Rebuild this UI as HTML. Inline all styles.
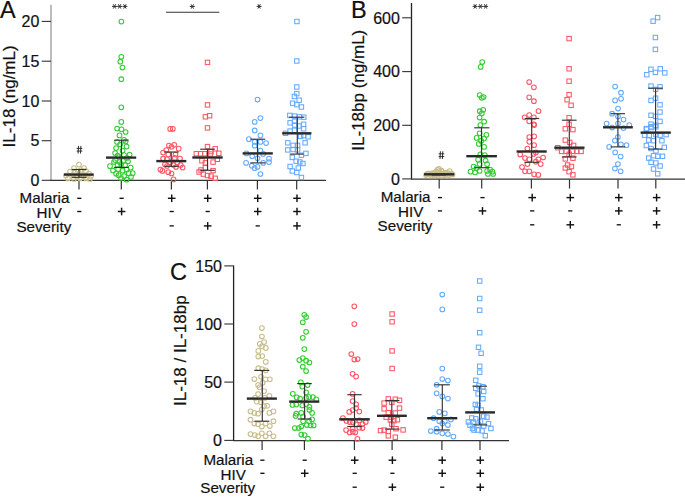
<!DOCTYPE html>
<html><head><meta charset="utf-8"><style>
html,body{margin:0;padding:0;background:#fff;}
svg{display:block;font-family:"Liberation Sans", sans-serif;}
text{stroke:#111;stroke-width:0.2px;}
</style></head><body>
<svg width="685" height="498" viewBox="0 0 685 498">
<text x="0" y="17.8" font-size="23.5" text-anchor="start" fill="#111" >A</text>
<line x1="51" y1="4.8" x2="51" y2="180.3" stroke="#999" stroke-width="1.3"/>
<line x1="50.4" y1="180.3" x2="326" y2="180.3" stroke="#333" stroke-width="1.2"/>
<line x1="41.7" y1="21.4" x2="51" y2="21.4" stroke="#333" stroke-width="1.1"/>
<text x="39.4" y="27.099999999999998" font-size="16" text-anchor="end" fill="#111" >20</text>
<line x1="41.7" y1="61.2" x2="51" y2="61.2" stroke="#333" stroke-width="1.1"/>
<text x="39.4" y="66.9" font-size="16" text-anchor="end" fill="#111" >15</text>
<line x1="41.7" y1="101" x2="51" y2="101" stroke="#333" stroke-width="1.1"/>
<text x="39.4" y="106.7" font-size="16" text-anchor="end" fill="#111" >10</text>
<line x1="41.7" y1="140.7" x2="51" y2="140.7" stroke="#333" stroke-width="1.1"/>
<text x="39.4" y="146.39999999999998" font-size="16" text-anchor="end" fill="#111" >5</text>
<line x1="41.7" y1="180.3" x2="51" y2="180.3" stroke="#333" stroke-width="1.1"/>
<text x="39.4" y="186.0" font-size="16" text-anchor="end" fill="#111" >0</text>
<text transform="translate(15,96.4) rotate(-90)" font-size="17" text-anchor="middle" fill="#111">IL-18 (ng/mL)</text>
<line x1="79.0" y1="180.3" x2="79.0" y2="189.60000000000002" stroke="#333" stroke-width="1.2"/>
<line x1="121.3" y1="180.3" x2="121.3" y2="189.60000000000002" stroke="#333" stroke-width="1.2"/>
<line x1="171.4" y1="180.3" x2="171.4" y2="189.60000000000002" stroke="#333" stroke-width="1.2"/>
<line x1="207.4" y1="180.3" x2="207.4" y2="189.60000000000002" stroke="#333" stroke-width="1.2"/>
<line x1="257.4" y1="180.3" x2="257.4" y2="189.60000000000002" stroke="#333" stroke-width="1.2"/>
<line x1="296.7" y1="180.3" x2="296.7" y2="189.60000000000002" stroke="#333" stroke-width="1.2"/>
<text x="19.6" y="203.3" font-size="15.2" text-anchor="start" fill="#111" >Malaria</text>
<text x="36.6" y="217.8" font-size="15.2" text-anchor="start" fill="#111" >HIV</text>
<text x="16.4" y="231.6" font-size="15.2" text-anchor="start" fill="#111" >Severity</text>
<line x1="77.2" y1="198.3" x2="81.4" y2="198.3" stroke="#111" stroke-width="1.35"/>
<line x1="119.5" y1="198.3" x2="123.7" y2="198.3" stroke="#111" stroke-width="1.35"/>
<line x1="167.9" y1="198.3" x2="175.5" y2="198.3" stroke="#111" stroke-width="1.45"/>
<line x1="171.7" y1="194.5" x2="171.7" y2="202.1" stroke="#111" stroke-width="1.45"/>
<line x1="203.9" y1="198.3" x2="211.5" y2="198.3" stroke="#111" stroke-width="1.45"/>
<line x1="207.7" y1="194.5" x2="207.7" y2="202.1" stroke="#111" stroke-width="1.45"/>
<line x1="253.9" y1="198.3" x2="261.5" y2="198.3" stroke="#111" stroke-width="1.45"/>
<line x1="257.7" y1="194.5" x2="257.7" y2="202.1" stroke="#111" stroke-width="1.45"/>
<line x1="293.2" y1="198.3" x2="300.8" y2="198.3" stroke="#111" stroke-width="1.45"/>
<line x1="297.0" y1="194.5" x2="297.0" y2="202.1" stroke="#111" stroke-width="1.45"/>
<line x1="77.2" y1="211.5" x2="81.4" y2="211.5" stroke="#111" stroke-width="1.35"/>
<line x1="117.8" y1="211.5" x2="125.4" y2="211.5" stroke="#111" stroke-width="1.45"/>
<line x1="121.6" y1="207.7" x2="121.6" y2="215.3" stroke="#111" stroke-width="1.45"/>
<line x1="169.6" y1="211.5" x2="173.8" y2="211.5" stroke="#111" stroke-width="1.35"/>
<line x1="205.6" y1="211.5" x2="209.8" y2="211.5" stroke="#111" stroke-width="1.35"/>
<line x1="253.9" y1="211.5" x2="261.5" y2="211.5" stroke="#111" stroke-width="1.45"/>
<line x1="257.7" y1="207.7" x2="257.7" y2="215.3" stroke="#111" stroke-width="1.45"/>
<line x1="293.2" y1="211.5" x2="300.8" y2="211.5" stroke="#111" stroke-width="1.45"/>
<line x1="297.0" y1="207.7" x2="297.0" y2="215.3" stroke="#111" stroke-width="1.45"/>
<line x1="169.6" y1="225.9" x2="173.8" y2="225.9" stroke="#111" stroke-width="1.35"/>
<line x1="203.9" y1="225.9" x2="211.5" y2="225.9" stroke="#111" stroke-width="1.45"/>
<line x1="207.7" y1="222.1" x2="207.7" y2="229.7" stroke="#111" stroke-width="1.45"/>
<line x1="255.6" y1="225.9" x2="259.8" y2="225.9" stroke="#111" stroke-width="1.35"/>
<line x1="293.2" y1="225.9" x2="300.8" y2="225.9" stroke="#111" stroke-width="1.45"/>
<line x1="297.0" y1="222.1" x2="297.0" y2="229.7" stroke="#111" stroke-width="1.45"/>
<text x="351" y="17.8" font-size="23.5" text-anchor="start" fill="#111" >B</text>
<line x1="411.5" y1="2.9" x2="411.5" y2="179.2" stroke="#222" stroke-width="1.3"/>
<line x1="410.9" y1="179.2" x2="685" y2="179.2" stroke="#333" stroke-width="1.2"/>
<line x1="402.2" y1="17.8" x2="411.5" y2="17.8" stroke="#333" stroke-width="1.1"/>
<text x="399.9" y="23.5" font-size="16" text-anchor="end" fill="#111" >600</text>
<line x1="402.2" y1="71.6" x2="411.5" y2="71.6" stroke="#333" stroke-width="1.1"/>
<text x="399.9" y="77.3" font-size="16" text-anchor="end" fill="#111" >400</text>
<line x1="402.2" y1="125.3" x2="411.5" y2="125.3" stroke="#333" stroke-width="1.1"/>
<text x="399.9" y="131.0" font-size="16" text-anchor="end" fill="#111" >200</text>
<line x1="402.2" y1="178.9" x2="411.5" y2="178.9" stroke="#333" stroke-width="1.1"/>
<text x="399.9" y="184.6" font-size="16" text-anchor="end" fill="#111" >0</text>
<text transform="translate(364,90.2) rotate(-90)" font-size="17" text-anchor="middle" fill="#111">IL-18bp (ng/mL)</text>
<line x1="439.2" y1="179.2" x2="439.2" y2="188.5" stroke="#333" stroke-width="1.2"/>
<line x1="481.7" y1="179.2" x2="481.7" y2="188.5" stroke="#333" stroke-width="1.2"/>
<line x1="531.4" y1="179.2" x2="531.4" y2="188.5" stroke="#333" stroke-width="1.2"/>
<line x1="569.5" y1="179.2" x2="569.5" y2="188.5" stroke="#333" stroke-width="1.2"/>
<line x1="618" y1="179.2" x2="618" y2="188.5" stroke="#333" stroke-width="1.2"/>
<line x1="655.8" y1="179.2" x2="655.8" y2="188.5" stroke="#333" stroke-width="1.2"/>
<text x="380.7" y="202.3" font-size="15.2" text-anchor="start" fill="#111" >Malaria</text>
<text x="398" y="216.8" font-size="15.2" text-anchor="start" fill="#111" >HIV</text>
<text x="377.6" y="230.6" font-size="15.2" text-anchor="start" fill="#111" >Severity</text>
<line x1="437.9" y1="197.6" x2="442.1" y2="197.6" stroke="#111" stroke-width="1.35"/>
<line x1="480.4" y1="197.6" x2="484.6" y2="197.6" stroke="#111" stroke-width="1.35"/>
<line x1="528.4" y1="197.6" x2="536.0" y2="197.6" stroke="#111" stroke-width="1.45"/>
<line x1="532.2" y1="193.8" x2="532.2" y2="201.4" stroke="#111" stroke-width="1.45"/>
<line x1="566.5" y1="197.6" x2="574.1" y2="197.6" stroke="#111" stroke-width="1.45"/>
<line x1="570.3" y1="193.8" x2="570.3" y2="201.4" stroke="#111" stroke-width="1.45"/>
<line x1="615.0" y1="197.6" x2="622.6" y2="197.6" stroke="#111" stroke-width="1.45"/>
<line x1="618.8" y1="193.8" x2="618.8" y2="201.4" stroke="#111" stroke-width="1.45"/>
<line x1="652.8" y1="197.6" x2="660.4" y2="197.6" stroke="#111" stroke-width="1.45"/>
<line x1="656.6" y1="193.8" x2="656.6" y2="201.4" stroke="#111" stroke-width="1.45"/>
<line x1="437.9" y1="210.9" x2="442.1" y2="210.9" stroke="#111" stroke-width="1.35"/>
<line x1="478.7" y1="210.9" x2="486.3" y2="210.9" stroke="#111" stroke-width="1.45"/>
<line x1="482.5" y1="207.1" x2="482.5" y2="214.7" stroke="#111" stroke-width="1.45"/>
<line x1="530.1" y1="210.9" x2="534.3" y2="210.9" stroke="#111" stroke-width="1.35"/>
<line x1="568.2" y1="210.9" x2="572.4" y2="210.9" stroke="#111" stroke-width="1.35"/>
<line x1="615.0" y1="210.9" x2="622.6" y2="210.9" stroke="#111" stroke-width="1.45"/>
<line x1="618.8" y1="207.1" x2="618.8" y2="214.7" stroke="#111" stroke-width="1.45"/>
<line x1="652.8" y1="210.9" x2="660.4" y2="210.9" stroke="#111" stroke-width="1.45"/>
<line x1="656.6" y1="207.1" x2="656.6" y2="214.7" stroke="#111" stroke-width="1.45"/>
<line x1="530.1" y1="224.8" x2="534.3" y2="224.8" stroke="#111" stroke-width="1.35"/>
<line x1="566.5" y1="224.8" x2="574.1" y2="224.8" stroke="#111" stroke-width="1.45"/>
<line x1="570.3" y1="221.0" x2="570.3" y2="228.6" stroke="#111" stroke-width="1.45"/>
<line x1="616.7" y1="224.8" x2="620.9" y2="224.8" stroke="#111" stroke-width="1.35"/>
<line x1="652.8" y1="224.8" x2="660.4" y2="224.8" stroke="#111" stroke-width="1.45"/>
<line x1="656.6" y1="221.0" x2="656.6" y2="228.6" stroke="#111" stroke-width="1.45"/>
<text x="170" y="279.6" font-size="23.5" text-anchor="start" fill="#111" >C</text>
<line x1="233.6" y1="265.5" x2="233.6" y2="440.6" stroke="#222" stroke-width="1.3"/>
<line x1="233.0" y1="440.6" x2="509" y2="440.6" stroke="#333" stroke-width="1.2"/>
<line x1="224.29999999999998" y1="265.9" x2="233.6" y2="265.9" stroke="#333" stroke-width="1.1"/>
<text x="222.0" y="271.59999999999997" font-size="16" text-anchor="end" fill="#111" >150</text>
<line x1="224.29999999999998" y1="324.0" x2="233.6" y2="324.0" stroke="#333" stroke-width="1.1"/>
<text x="222.0" y="329.7" font-size="16" text-anchor="end" fill="#111" >100</text>
<line x1="224.29999999999998" y1="382.1" x2="233.6" y2="382.1" stroke="#333" stroke-width="1.1"/>
<text x="222.0" y="387.8" font-size="16" text-anchor="end" fill="#111" >50</text>
<line x1="224.29999999999998" y1="440.4" x2="233.6" y2="440.4" stroke="#333" stroke-width="1.1"/>
<text x="222.0" y="446.09999999999997" font-size="16" text-anchor="end" fill="#111" >0</text>
<text transform="translate(186,350.7) rotate(-90)" font-size="17" text-anchor="middle" fill="#111">IL-18 / IL-18bp</text>
<line x1="262.1" y1="440.6" x2="262.1" y2="449.90000000000003" stroke="#333" stroke-width="1.2"/>
<line x1="304.4" y1="440.6" x2="304.4" y2="449.90000000000003" stroke="#333" stroke-width="1.2"/>
<line x1="354.4" y1="440.6" x2="354.4" y2="449.90000000000003" stroke="#333" stroke-width="1.2"/>
<line x1="392.1" y1="440.6" x2="392.1" y2="449.90000000000003" stroke="#333" stroke-width="1.2"/>
<line x1="441.9" y1="440.6" x2="441.9" y2="449.90000000000003" stroke="#333" stroke-width="1.2"/>
<line x1="480.0" y1="440.6" x2="480.0" y2="449.90000000000003" stroke="#333" stroke-width="1.2"/>
<text x="203.4" y="464.7" font-size="15.2" text-anchor="start" fill="#111" >Malaria</text>
<text x="220.6" y="479.6" font-size="15.2" text-anchor="start" fill="#111" >HIV</text>
<text x="200.3" y="493.1" font-size="15.2" text-anchor="start" fill="#111" >Severity</text>
<line x1="260.3" y1="460.2" x2="264.5" y2="460.2" stroke="#111" stroke-width="1.35"/>
<line x1="302.6" y1="460.2" x2="306.8" y2="460.2" stroke="#111" stroke-width="1.35"/>
<line x1="350.9" y1="460.2" x2="358.5" y2="460.2" stroke="#111" stroke-width="1.45"/>
<line x1="354.7" y1="456.4" x2="354.7" y2="464.0" stroke="#111" stroke-width="1.45"/>
<line x1="388.6" y1="460.2" x2="396.2" y2="460.2" stroke="#111" stroke-width="1.45"/>
<line x1="392.4" y1="456.4" x2="392.4" y2="464.0" stroke="#111" stroke-width="1.45"/>
<line x1="438.4" y1="460.2" x2="446.0" y2="460.2" stroke="#111" stroke-width="1.45"/>
<line x1="442.2" y1="456.4" x2="442.2" y2="464.0" stroke="#111" stroke-width="1.45"/>
<line x1="476.5" y1="460.2" x2="484.1" y2="460.2" stroke="#111" stroke-width="1.45"/>
<line x1="480.3" y1="456.4" x2="480.3" y2="464.0" stroke="#111" stroke-width="1.45"/>
<line x1="260.3" y1="473.3" x2="264.5" y2="473.3" stroke="#111" stroke-width="1.35"/>
<line x1="300.9" y1="473.3" x2="308.5" y2="473.3" stroke="#111" stroke-width="1.45"/>
<line x1="304.7" y1="469.5" x2="304.7" y2="477.1" stroke="#111" stroke-width="1.45"/>
<line x1="352.6" y1="473.3" x2="356.8" y2="473.3" stroke="#111" stroke-width="1.35"/>
<line x1="390.3" y1="473.3" x2="394.5" y2="473.3" stroke="#111" stroke-width="1.35"/>
<line x1="438.4" y1="473.3" x2="446.0" y2="473.3" stroke="#111" stroke-width="1.45"/>
<line x1="442.2" y1="469.5" x2="442.2" y2="477.1" stroke="#111" stroke-width="1.45"/>
<line x1="476.5" y1="473.3" x2="484.1" y2="473.3" stroke="#111" stroke-width="1.45"/>
<line x1="480.3" y1="469.5" x2="480.3" y2="477.1" stroke="#111" stroke-width="1.45"/>
<line x1="352.6" y1="487.2" x2="356.8" y2="487.2" stroke="#111" stroke-width="1.35"/>
<line x1="388.6" y1="487.2" x2="396.2" y2="487.2" stroke="#111" stroke-width="1.45"/>
<line x1="392.4" y1="483.4" x2="392.4" y2="491.0" stroke="#111" stroke-width="1.45"/>
<line x1="440.1" y1="487.2" x2="444.3" y2="487.2" stroke="#111" stroke-width="1.35"/>
<line x1="476.5" y1="487.2" x2="484.1" y2="487.2" stroke="#111" stroke-width="1.45"/>
<line x1="480.3" y1="483.4" x2="480.3" y2="491.0" stroke="#111" stroke-width="1.45"/>
<circle cx="79" cy="164.6" r="2.35" fill="none" stroke="#c8bd8c" stroke-width="1.05"/>
<circle cx="74" cy="168.2" r="2.35" fill="none" stroke="#c8bd8c" stroke-width="1.05"/>
<circle cx="84" cy="168" r="2.35" fill="none" stroke="#c8bd8c" stroke-width="1.05"/>
<circle cx="70" cy="171.5" r="2.35" fill="none" stroke="#c8bd8c" stroke-width="1.05"/>
<circle cx="78" cy="171.5" r="2.35" fill="none" stroke="#c8bd8c" stroke-width="1.05"/>
<circle cx="86" cy="171" r="2.35" fill="none" stroke="#c8bd8c" stroke-width="1.05"/>
<circle cx="89" cy="173.5" r="2.35" fill="none" stroke="#c8bd8c" stroke-width="1.05"/>
<circle cx="66" cy="175.5" r="2.35" fill="none" stroke="#c8bd8c" stroke-width="1.05"/>
<circle cx="73" cy="175" r="2.35" fill="none" stroke="#c8bd8c" stroke-width="1.05"/>
<circle cx="82" cy="175" r="2.35" fill="none" stroke="#c8bd8c" stroke-width="1.05"/>
<circle cx="91" cy="176" r="2.35" fill="none" stroke="#c8bd8c" stroke-width="1.05"/>
<circle cx="68" cy="178.5" r="2.35" fill="none" stroke="#c8bd8c" stroke-width="1.05"/>
<circle cx="74" cy="179" r="2.35" fill="none" stroke="#c8bd8c" stroke-width="1.05"/>
<circle cx="80" cy="178.5" r="2.35" fill="none" stroke="#c8bd8c" stroke-width="1.05"/>
<circle cx="86" cy="178.5" r="2.35" fill="none" stroke="#c8bd8c" stroke-width="1.05"/>
<circle cx="90" cy="179" r="2.35" fill="none" stroke="#c8bd8c" stroke-width="1.05"/>
<circle cx="77" cy="177" r="2.35" fill="none" stroke="#c8bd8c" stroke-width="1.05"/>
<circle cx="81" cy="170" r="2.35" fill="none" stroke="#c8bd8c" stroke-width="1.05"/>
<circle cx="75" cy="172.5" r="2.35" fill="none" stroke="#c8bd8c" stroke-width="1.05"/>
<circle cx="84" cy="176" r="2.35" fill="none" stroke="#c8bd8c" stroke-width="1.05"/>
<circle cx="121.4" cy="21.6" r="2.35" fill="none" stroke="#33cc33" stroke-width="1.05"/>
<circle cx="121.3" cy="56.8" r="2.35" fill="none" stroke="#33cc33" stroke-width="1.05"/>
<circle cx="120.3" cy="61.7" r="2.35" fill="none" stroke="#33cc33" stroke-width="1.05"/>
<circle cx="122.4" cy="67.5" r="2.35" fill="none" stroke="#33cc33" stroke-width="1.05"/>
<circle cx="121.3" cy="79.2" r="2.35" fill="none" stroke="#33cc33" stroke-width="1.05"/>
<circle cx="121.3" cy="107.3" r="2.35" fill="none" stroke="#33cc33" stroke-width="1.05"/>
<circle cx="121.3" cy="121.9" r="2.35" fill="none" stroke="#33cc33" stroke-width="1.05"/>
<circle cx="117.1" cy="128.6" r="2.35" fill="none" stroke="#33cc33" stroke-width="1.05"/>
<circle cx="121.5" cy="129.3" r="2.35" fill="none" stroke="#33cc33" stroke-width="1.05"/>
<circle cx="125.6" cy="132" r="2.35" fill="none" stroke="#33cc33" stroke-width="1.05"/>
<circle cx="119.5" cy="135.4" r="2.35" fill="none" stroke="#33cc33" stroke-width="1.05"/>
<circle cx="123.9" cy="139.9" r="2.35" fill="none" stroke="#33cc33" stroke-width="1.05"/>
<circle cx="117.1" cy="142" r="2.35" fill="none" stroke="#33cc33" stroke-width="1.05"/>
<circle cx="125.6" cy="141.5" r="2.35" fill="none" stroke="#33cc33" stroke-width="1.05"/>
<circle cx="120.1" cy="144.5" r="2.35" fill="none" stroke="#33cc33" stroke-width="1.05"/>
<circle cx="126.6" cy="146.6" r="2.35" fill="none" stroke="#33cc33" stroke-width="1.05"/>
<circle cx="116.1" cy="148.1" r="2.35" fill="none" stroke="#33cc33" stroke-width="1.05"/>
<circle cx="122.6" cy="150.6" r="2.35" fill="none" stroke="#33cc33" stroke-width="1.05"/>
<circle cx="115.1" cy="153.1" r="2.35" fill="none" stroke="#33cc33" stroke-width="1.05"/>
<circle cx="129.6" cy="154.6" r="2.35" fill="none" stroke="#33cc33" stroke-width="1.05"/>
<circle cx="124.1" cy="155.1" r="2.35" fill="none" stroke="#33cc33" stroke-width="1.05"/>
<circle cx="117.6" cy="155.6" r="2.35" fill="none" stroke="#33cc33" stroke-width="1.05"/>
<circle cx="115.1" cy="160.1" r="2.35" fill="none" stroke="#33cc33" stroke-width="1.05"/>
<circle cx="123.1" cy="161.1" r="2.35" fill="none" stroke="#33cc33" stroke-width="1.05"/>
<circle cx="119.6" cy="162.1" r="2.35" fill="none" stroke="#33cc33" stroke-width="1.05"/>
<circle cx="110" cy="166.2" r="2.35" fill="none" stroke="#33cc33" stroke-width="1.05"/>
<circle cx="117.6" cy="165.2" r="2.35" fill="none" stroke="#33cc33" stroke-width="1.05"/>
<circle cx="125.1" cy="165.2" r="2.35" fill="none" stroke="#33cc33" stroke-width="1.05"/>
<circle cx="130.7" cy="167.7" r="2.35" fill="none" stroke="#33cc33" stroke-width="1.05"/>
<circle cx="118.1" cy="169.2" r="2.35" fill="none" stroke="#33cc33" stroke-width="1.05"/>
<circle cx="122.6" cy="170.7" r="2.35" fill="none" stroke="#33cc33" stroke-width="1.05"/>
<circle cx="126.6" cy="169.7" r="2.35" fill="none" stroke="#33cc33" stroke-width="1.05"/>
<circle cx="132.7" cy="173.2" r="2.35" fill="none" stroke="#33cc33" stroke-width="1.05"/>
<circle cx="116.1" cy="173.7" r="2.35" fill="none" stroke="#33cc33" stroke-width="1.05"/>
<circle cx="128.6" cy="173.2" r="2.35" fill="none" stroke="#33cc33" stroke-width="1.05"/>
<circle cx="118.6" cy="175.2" r="2.35" fill="none" stroke="#33cc33" stroke-width="1.05"/>
<circle cx="124.1" cy="176.2" r="2.35" fill="none" stroke="#33cc33" stroke-width="1.05"/>
<circle cx="126.6" cy="179.7" r="2.35" fill="none" stroke="#33cc33" stroke-width="1.05"/>
<circle cx="114" cy="162" r="2.35" fill="none" stroke="#33cc33" stroke-width="1.05"/>
<circle cx="121" cy="164" r="2.35" fill="none" stroke="#33cc33" stroke-width="1.05"/>
<circle cx="128" cy="161.5" r="2.35" fill="none" stroke="#33cc33" stroke-width="1.05"/>
<circle cx="113" cy="170.5" r="2.35" fill="none" stroke="#33cc33" stroke-width="1.05"/>
<circle cx="121" cy="178" r="2.35" fill="none" stroke="#33cc33" stroke-width="1.05"/>
<circle cx="131" cy="177" r="2.35" fill="none" stroke="#33cc33" stroke-width="1.05"/>
<circle cx="119" cy="157" r="2.35" fill="none" stroke="#33cc33" stroke-width="1.05"/>
<circle cx="127" cy="158" r="2.35" fill="none" stroke="#33cc33" stroke-width="1.05"/>
<circle cx="170.2" cy="128.9" r="2.35" fill="none" stroke="#ff5563" stroke-width="1.05"/>
<circle cx="172.8" cy="128.9" r="2.35" fill="none" stroke="#ff5563" stroke-width="1.05"/>
<circle cx="168.9" cy="145.5" r="2.35" fill="none" stroke="#ff5563" stroke-width="1.05"/>
<circle cx="174.2" cy="144.8" r="2.35" fill="none" stroke="#ff5563" stroke-width="1.05"/>
<circle cx="171.5" cy="146.8" r="2.35" fill="none" stroke="#ff5563" stroke-width="1.05"/>
<circle cx="178.7" cy="148.7" r="2.35" fill="none" stroke="#ff5563" stroke-width="1.05"/>
<circle cx="166.3" cy="150" r="2.35" fill="none" stroke="#ff5563" stroke-width="1.05"/>
<circle cx="163.1" cy="152.6" r="2.35" fill="none" stroke="#ff5563" stroke-width="1.05"/>
<circle cx="168.3" cy="154.6" r="2.35" fill="none" stroke="#ff5563" stroke-width="1.05"/>
<circle cx="175.5" cy="154.6" r="2.35" fill="none" stroke="#ff5563" stroke-width="1.05"/>
<circle cx="163.1" cy="158.5" r="2.35" fill="none" stroke="#ff5563" stroke-width="1.05"/>
<circle cx="174.8" cy="157.9" r="2.35" fill="none" stroke="#ff5563" stroke-width="1.05"/>
<circle cx="180" cy="158.5" r="2.35" fill="none" stroke="#ff5563" stroke-width="1.05"/>
<circle cx="167" cy="159.2" r="2.35" fill="none" stroke="#ff5563" stroke-width="1.05"/>
<circle cx="170.2" cy="162.4" r="2.35" fill="none" stroke="#ff5563" stroke-width="1.05"/>
<circle cx="177.4" cy="162.4" r="2.35" fill="none" stroke="#ff5563" stroke-width="1.05"/>
<circle cx="165" cy="164.4" r="2.35" fill="none" stroke="#ff5563" stroke-width="1.05"/>
<circle cx="180.7" cy="165" r="2.35" fill="none" stroke="#ff5563" stroke-width="1.05"/>
<circle cx="173.5" cy="165" r="2.35" fill="none" stroke="#ff5563" stroke-width="1.05"/>
<circle cx="182.6" cy="167.6" r="2.35" fill="none" stroke="#ff5563" stroke-width="1.05"/>
<circle cx="160.4" cy="169.6" r="2.35" fill="none" stroke="#ff5563" stroke-width="1.05"/>
<circle cx="162.4" cy="170.9" r="2.35" fill="none" stroke="#ff5563" stroke-width="1.05"/>
<circle cx="168.3" cy="172.2" r="2.35" fill="none" stroke="#ff5563" stroke-width="1.05"/>
<circle cx="171.5" cy="173.5" r="2.35" fill="none" stroke="#ff5563" stroke-width="1.05"/>
<circle cx="173.5" cy="179.4" r="2.35" fill="none" stroke="#ff5563" stroke-width="1.05"/>
<circle cx="167" cy="166" r="2.35" fill="none" stroke="#ff5563" stroke-width="1.05"/>
<circle cx="176" cy="167" r="2.35" fill="none" stroke="#ff5563" stroke-width="1.05"/>
<rect x="205.3" y="60.2" width="4.4" height="4.4" fill="none" stroke="#ff5563" stroke-width="1.05"/>
<rect x="205.3" y="102.7" width="4.4" height="4.4" fill="none" stroke="#ff5563" stroke-width="1.05"/>
<rect x="207.4" y="113.5" width="4.4" height="4.4" fill="none" stroke="#ff5563" stroke-width="1.05"/>
<rect x="203.2" y="114.6" width="4.4" height="4.4" fill="none" stroke="#ff5563" stroke-width="1.05"/>
<rect x="205.3" y="125.7" width="4.4" height="4.4" fill="none" stroke="#ff5563" stroke-width="1.05"/>
<rect x="205.3" y="144.4" width="4.4" height="4.4" fill="none" stroke="#ff5563" stroke-width="1.05"/>
<rect x="213.0" y="146.6" width="4.4" height="4.4" fill="none" stroke="#ff5563" stroke-width="1.05"/>
<rect x="208.8" y="149.4" width="4.4" height="4.4" fill="none" stroke="#ff5563" stroke-width="1.05"/>
<rect x="216.6" y="151.1" width="4.4" height="4.4" fill="none" stroke="#ff5563" stroke-width="1.05"/>
<rect x="194.1" y="151.5" width="4.4" height="4.4" fill="none" stroke="#ff5563" stroke-width="1.05"/>
<rect x="198.3" y="151.5" width="4.4" height="4.4" fill="none" stroke="#ff5563" stroke-width="1.05"/>
<rect x="202.5" y="151.5" width="4.4" height="4.4" fill="none" stroke="#ff5563" stroke-width="1.05"/>
<rect x="208.3" y="151.8" width="4.4" height="4.4" fill="none" stroke="#ff5563" stroke-width="1.05"/>
<rect x="199.7" y="158.5" width="4.4" height="4.4" fill="none" stroke="#ff5563" stroke-width="1.05"/>
<rect x="215.1" y="157.1" width="4.4" height="4.4" fill="none" stroke="#ff5563" stroke-width="1.05"/>
<rect x="210.9" y="159.9" width="4.4" height="4.4" fill="none" stroke="#ff5563" stroke-width="1.05"/>
<rect x="203.2" y="160.6" width="4.4" height="4.4" fill="none" stroke="#ff5563" stroke-width="1.05"/>
<rect x="203.2" y="165.5" width="4.4" height="4.4" fill="none" stroke="#ff5563" stroke-width="1.05"/>
<rect x="210.9" y="168.4" width="4.4" height="4.4" fill="none" stroke="#ff5563" stroke-width="1.05"/>
<rect x="196.9" y="169.8" width="4.4" height="4.4" fill="none" stroke="#ff5563" stroke-width="1.05"/>
<rect x="201.1" y="171.9" width="4.4" height="4.4" fill="none" stroke="#ff5563" stroke-width="1.05"/>
<rect x="205.3" y="173.3" width="4.4" height="4.4" fill="none" stroke="#ff5563" stroke-width="1.05"/>
<rect x="208.8" y="174.0" width="4.4" height="4.4" fill="none" stroke="#ff5563" stroke-width="1.05"/>
<rect x="213.0" y="176.1" width="4.4" height="4.4" fill="none" stroke="#ff5563" stroke-width="1.05"/>
<rect x="198.8" y="167.8" width="4.4" height="4.4" fill="none" stroke="#ff5563" stroke-width="1.05"/>
<circle cx="257.5" cy="99.5" r="2.35" fill="none" stroke="#64aaff" stroke-width="1.05"/>
<circle cx="260.4" cy="118.1" r="2.35" fill="none" stroke="#64aaff" stroke-width="1.05"/>
<circle cx="254.7" cy="121.9" r="2.35" fill="none" stroke="#64aaff" stroke-width="1.05"/>
<circle cx="254.7" cy="130.5" r="2.35" fill="none" stroke="#64aaff" stroke-width="1.05"/>
<circle cx="260.4" cy="135.4" r="2.35" fill="none" stroke="#64aaff" stroke-width="1.05"/>
<circle cx="248.9" cy="139.2" r="2.35" fill="none" stroke="#64aaff" stroke-width="1.05"/>
<circle cx="254.7" cy="141.9" r="2.35" fill="none" stroke="#64aaff" stroke-width="1.05"/>
<circle cx="254.7" cy="145.7" r="2.35" fill="none" stroke="#64aaff" stroke-width="1.05"/>
<circle cx="260.4" cy="141.9" r="2.35" fill="none" stroke="#64aaff" stroke-width="1.05"/>
<circle cx="266.1" cy="143.1" r="2.35" fill="none" stroke="#64aaff" stroke-width="1.05"/>
<circle cx="260.4" cy="150.7" r="2.35" fill="none" stroke="#64aaff" stroke-width="1.05"/>
<circle cx="246.5" cy="153.4" r="2.35" fill="none" stroke="#64aaff" stroke-width="1.05"/>
<circle cx="263.2" cy="153.9" r="2.35" fill="none" stroke="#64aaff" stroke-width="1.05"/>
<circle cx="252.2" cy="156.2" r="2.35" fill="none" stroke="#64aaff" stroke-width="1.05"/>
<circle cx="257.5" cy="158.3" r="2.35" fill="none" stroke="#64aaff" stroke-width="1.05"/>
<circle cx="269" cy="158.7" r="2.35" fill="none" stroke="#64aaff" stroke-width="1.05"/>
<circle cx="269" cy="162.1" r="2.35" fill="none" stroke="#64aaff" stroke-width="1.05"/>
<circle cx="246.1" cy="162.9" r="2.35" fill="none" stroke="#64aaff" stroke-width="1.05"/>
<circle cx="263.2" cy="162.9" r="2.35" fill="none" stroke="#64aaff" stroke-width="1.05"/>
<circle cx="251.8" cy="165.8" r="2.35" fill="none" stroke="#64aaff" stroke-width="1.05"/>
<circle cx="254.7" cy="168.2" r="2.35" fill="none" stroke="#64aaff" stroke-width="1.05"/>
<circle cx="257.5" cy="166.9" r="2.35" fill="none" stroke="#64aaff" stroke-width="1.05"/>
<circle cx="260.4" cy="174" r="2.35" fill="none" stroke="#64aaff" stroke-width="1.05"/>
<rect x="294.7" y="19.3" width="4.4" height="4.4" fill="none" stroke="#64aaff" stroke-width="1.05"/>
<rect x="294.6" y="58.8" width="4.4" height="4.4" fill="none" stroke="#64aaff" stroke-width="1.05"/>
<rect x="294.6" y="84.8" width="4.4" height="4.4" fill="none" stroke="#64aaff" stroke-width="1.05"/>
<rect x="294.6" y="91.4" width="4.4" height="4.4" fill="none" stroke="#64aaff" stroke-width="1.05"/>
<rect x="292.2" y="94.2" width="4.4" height="4.4" fill="none" stroke="#64aaff" stroke-width="1.05"/>
<rect x="297.0" y="98.0" width="4.4" height="4.4" fill="none" stroke="#64aaff" stroke-width="1.05"/>
<rect x="290.4" y="101.0" width="4.4" height="4.4" fill="none" stroke="#64aaff" stroke-width="1.05"/>
<rect x="294.6" y="102.4" width="4.4" height="4.4" fill="none" stroke="#64aaff" stroke-width="1.05"/>
<rect x="299.2" y="104.8" width="4.4" height="4.4" fill="none" stroke="#64aaff" stroke-width="1.05"/>
<rect x="287.6" y="113.2" width="4.4" height="4.4" fill="none" stroke="#64aaff" stroke-width="1.05"/>
<rect x="292.5" y="113.9" width="4.4" height="4.4" fill="none" stroke="#64aaff" stroke-width="1.05"/>
<rect x="297.4" y="114.6" width="4.4" height="4.4" fill="none" stroke="#64aaff" stroke-width="1.05"/>
<rect x="301.6" y="115.0" width="4.4" height="4.4" fill="none" stroke="#64aaff" stroke-width="1.05"/>
<rect x="287.9" y="120.6" width="4.4" height="4.4" fill="none" stroke="#64aaff" stroke-width="1.05"/>
<rect x="292.4" y="119.1" width="4.4" height="4.4" fill="none" stroke="#64aaff" stroke-width="1.05"/>
<rect x="301.4" y="122.1" width="4.4" height="4.4" fill="none" stroke="#64aaff" stroke-width="1.05"/>
<rect x="292.4" y="122.9" width="4.4" height="4.4" fill="none" stroke="#64aaff" stroke-width="1.05"/>
<rect x="296.8" y="123.8" width="4.4" height="4.4" fill="none" stroke="#64aaff" stroke-width="1.05"/>
<rect x="301.4" y="126.6" width="4.4" height="4.4" fill="none" stroke="#64aaff" stroke-width="1.05"/>
<rect x="287.9" y="128.9" width="4.4" height="4.4" fill="none" stroke="#64aaff" stroke-width="1.05"/>
<rect x="292.4" y="128.1" width="4.4" height="4.4" fill="none" stroke="#64aaff" stroke-width="1.05"/>
<rect x="283.3" y="131.1" width="4.4" height="4.4" fill="none" stroke="#64aaff" stroke-width="1.05"/>
<rect x="298.4" y="134.2" width="4.4" height="4.4" fill="none" stroke="#64aaff" stroke-width="1.05"/>
<rect x="301.4" y="133.4" width="4.4" height="4.4" fill="none" stroke="#64aaff" stroke-width="1.05"/>
<rect x="305.9" y="134.6" width="4.4" height="4.4" fill="none" stroke="#64aaff" stroke-width="1.05"/>
<rect x="302.9" y="140.6" width="4.4" height="4.4" fill="none" stroke="#64aaff" stroke-width="1.05"/>
<rect x="285.6" y="140.6" width="4.4" height="4.4" fill="none" stroke="#64aaff" stroke-width="1.05"/>
<rect x="290.9" y="143.2" width="4.4" height="4.4" fill="none" stroke="#64aaff" stroke-width="1.05"/>
<rect x="295.4" y="143.2" width="4.4" height="4.4" fill="none" stroke="#64aaff" stroke-width="1.05"/>
<rect x="285.6" y="147.7" width="4.4" height="4.4" fill="none" stroke="#64aaff" stroke-width="1.05"/>
<rect x="290.9" y="147.3" width="4.4" height="4.4" fill="none" stroke="#64aaff" stroke-width="1.05"/>
<rect x="295.4" y="147.7" width="4.4" height="4.4" fill="none" stroke="#64aaff" stroke-width="1.05"/>
<rect x="303.7" y="151.2" width="4.4" height="4.4" fill="none" stroke="#64aaff" stroke-width="1.05"/>
<rect x="290.1" y="155.2" width="4.4" height="4.4" fill="none" stroke="#64aaff" stroke-width="1.05"/>
<rect x="299.2" y="153.0" width="4.4" height="4.4" fill="none" stroke="#64aaff" stroke-width="1.05"/>
<rect x="293.9" y="159.0" width="4.4" height="4.4" fill="none" stroke="#64aaff" stroke-width="1.05"/>
<rect x="300.7" y="161.3" width="4.4" height="4.4" fill="none" stroke="#64aaff" stroke-width="1.05"/>
<rect x="297.6" y="159.8" width="4.4" height="4.4" fill="none" stroke="#64aaff" stroke-width="1.05"/>
<rect x="287.9" y="164.3" width="4.4" height="4.4" fill="none" stroke="#64aaff" stroke-width="1.05"/>
<rect x="296.1" y="165.8" width="4.4" height="4.4" fill="none" stroke="#64aaff" stroke-width="1.05"/>
<rect x="290.1" y="168.8" width="4.4" height="4.4" fill="none" stroke="#64aaff" stroke-width="1.05"/>
<rect x="294.6" y="170.3" width="4.4" height="4.4" fill="none" stroke="#64aaff" stroke-width="1.05"/>
<rect x="299.2" y="175.3" width="4.4" height="4.4" fill="none" stroke="#64aaff" stroke-width="1.05"/>
<circle cx="439" cy="168.8" r="2.35" fill="none" stroke="#c8bd8c" stroke-width="1.05"/>
<circle cx="441.5" cy="170.5" r="2.35" fill="none" stroke="#c8bd8c" stroke-width="1.05"/>
<circle cx="449.7" cy="171.2" r="2.35" fill="none" stroke="#c8bd8c" stroke-width="1.05"/>
<circle cx="436" cy="171.5" r="2.35" fill="none" stroke="#c8bd8c" stroke-width="1.05"/>
<circle cx="442" cy="172" r="2.35" fill="none" stroke="#c8bd8c" stroke-width="1.05"/>
<circle cx="446" cy="172.5" r="2.35" fill="none" stroke="#c8bd8c" stroke-width="1.05"/>
<circle cx="431" cy="173.5" r="2.35" fill="none" stroke="#c8bd8c" stroke-width="1.05"/>
<circle cx="428" cy="173.6" r="2.35" fill="none" stroke="#c8bd8c" stroke-width="1.05"/>
<circle cx="434" cy="173.6" r="2.35" fill="none" stroke="#c8bd8c" stroke-width="1.05"/>
<circle cx="440" cy="173.6" r="2.35" fill="none" stroke="#c8bd8c" stroke-width="1.05"/>
<circle cx="446" cy="173.6" r="2.35" fill="none" stroke="#c8bd8c" stroke-width="1.05"/>
<circle cx="452" cy="174.1" r="2.35" fill="none" stroke="#c8bd8c" stroke-width="1.05"/>
<circle cx="426" cy="175.1" r="2.35" fill="none" stroke="#c8bd8c" stroke-width="1.05"/>
<circle cx="431" cy="175.6" r="2.35" fill="none" stroke="#c8bd8c" stroke-width="1.05"/>
<circle cx="437" cy="175.1" r="2.35" fill="none" stroke="#c8bd8c" stroke-width="1.05"/>
<circle cx="443" cy="175.4" r="2.35" fill="none" stroke="#c8bd8c" stroke-width="1.05"/>
<circle cx="449" cy="175.1" r="2.35" fill="none" stroke="#c8bd8c" stroke-width="1.05"/>
<circle cx="452.5" cy="174.6" r="2.35" fill="none" stroke="#c8bd8c" stroke-width="1.05"/>
<circle cx="445" cy="173" r="2.35" fill="none" stroke="#c8bd8c" stroke-width="1.05"/>
<circle cx="433" cy="173" r="2.35" fill="none" stroke="#c8bd8c" stroke-width="1.05"/>
<circle cx="438" cy="173.5" r="2.35" fill="none" stroke="#c8bd8c" stroke-width="1.05"/>
<circle cx="429" cy="173.5" r="2.35" fill="none" stroke="#c8bd8c" stroke-width="1.05"/>
<circle cx="451" cy="173.5" r="2.35" fill="none" stroke="#c8bd8c" stroke-width="1.05"/>
<circle cx="427" cy="174" r="2.35" fill="none" stroke="#c8bd8c" stroke-width="1.05"/>
<circle cx="435" cy="175.6" r="2.35" fill="none" stroke="#c8bd8c" stroke-width="1.05"/>
<circle cx="441" cy="175.6" r="2.35" fill="none" stroke="#c8bd8c" stroke-width="1.05"/>
<circle cx="447" cy="175.6" r="2.35" fill="none" stroke="#c8bd8c" stroke-width="1.05"/>
<circle cx="444" cy="173.6" r="2.35" fill="none" stroke="#c8bd8c" stroke-width="1.05"/>
<circle cx="436" cy="174" r="2.35" fill="none" stroke="#c8bd8c" stroke-width="1.05"/>
<circle cx="448" cy="173.1" r="2.35" fill="none" stroke="#c8bd8c" stroke-width="1.05"/>
<circle cx="432" cy="174.6" r="2.35" fill="none" stroke="#c8bd8c" stroke-width="1.05"/>
<circle cx="439" cy="171" r="2.35" fill="none" stroke="#c8bd8c" stroke-width="1.05"/>
<circle cx="437.5" cy="169.5" r="2.35" fill="none" stroke="#c8bd8c" stroke-width="1.05"/>
<circle cx="482.2" cy="62" r="2.35" fill="none" stroke="#33cc33" stroke-width="1.05"/>
<circle cx="480.7" cy="66.9" r="2.35" fill="none" stroke="#33cc33" stroke-width="1.05"/>
<circle cx="479.7" cy="95" r="2.35" fill="none" stroke="#33cc33" stroke-width="1.05"/>
<circle cx="481.8" cy="97.8" r="2.35" fill="none" stroke="#33cc33" stroke-width="1.05"/>
<circle cx="483.6" cy="97.1" r="2.35" fill="none" stroke="#33cc33" stroke-width="1.05"/>
<circle cx="479.7" cy="111.2" r="2.35" fill="none" stroke="#33cc33" stroke-width="1.05"/>
<circle cx="483.2" cy="109.8" r="2.35" fill="none" stroke="#33cc33" stroke-width="1.05"/>
<circle cx="481.8" cy="113.3" r="2.35" fill="none" stroke="#33cc33" stroke-width="1.05"/>
<circle cx="479.6" cy="117.5" r="2.35" fill="none" stroke="#33cc33" stroke-width="1.05"/>
<circle cx="484.1" cy="121.7" r="2.35" fill="none" stroke="#33cc33" stroke-width="1.05"/>
<circle cx="480.3" cy="125.1" r="2.35" fill="none" stroke="#33cc33" stroke-width="1.05"/>
<circle cx="479.6" cy="133.3" r="2.35" fill="none" stroke="#33cc33" stroke-width="1.05"/>
<circle cx="486.4" cy="134.8" r="2.35" fill="none" stroke="#33cc33" stroke-width="1.05"/>
<circle cx="476.6" cy="137.9" r="2.35" fill="none" stroke="#33cc33" stroke-width="1.05"/>
<circle cx="484.1" cy="138.6" r="2.35" fill="none" stroke="#33cc33" stroke-width="1.05"/>
<circle cx="481.1" cy="140.9" r="2.35" fill="none" stroke="#33cc33" stroke-width="1.05"/>
<circle cx="478.8" cy="143.9" r="2.35" fill="none" stroke="#33cc33" stroke-width="1.05"/>
<circle cx="484.1" cy="146.9" r="2.35" fill="none" stroke="#33cc33" stroke-width="1.05"/>
<circle cx="480.3" cy="154.4" r="2.35" fill="none" stroke="#33cc33" stroke-width="1.05"/>
<circle cx="484.8" cy="155.2" r="2.35" fill="none" stroke="#33cc33" stroke-width="1.05"/>
<circle cx="478.1" cy="159.7" r="2.35" fill="none" stroke="#33cc33" stroke-width="1.05"/>
<circle cx="485.6" cy="160.5" r="2.35" fill="none" stroke="#33cc33" stroke-width="1.05"/>
<circle cx="473.6" cy="166.5" r="2.35" fill="none" stroke="#33cc33" stroke-width="1.05"/>
<circle cx="479.6" cy="164.2" r="2.35" fill="none" stroke="#33cc33" stroke-width="1.05"/>
<circle cx="487.1" cy="164.2" r="2.35" fill="none" stroke="#33cc33" stroke-width="1.05"/>
<circle cx="476.6" cy="168" r="2.35" fill="none" stroke="#33cc33" stroke-width="1.05"/>
<circle cx="490.1" cy="169.5" r="2.35" fill="none" stroke="#33cc33" stroke-width="1.05"/>
<circle cx="470.5" cy="171.7" r="2.35" fill="none" stroke="#33cc33" stroke-width="1.05"/>
<circle cx="475.1" cy="172.5" r="2.35" fill="none" stroke="#33cc33" stroke-width="1.05"/>
<circle cx="479.6" cy="171" r="2.35" fill="none" stroke="#33cc33" stroke-width="1.05"/>
<circle cx="487.1" cy="171" r="2.35" fill="none" stroke="#33cc33" stroke-width="1.05"/>
<circle cx="492.4" cy="171.7" r="2.35" fill="none" stroke="#33cc33" stroke-width="1.05"/>
<circle cx="487.9" cy="174" r="2.35" fill="none" stroke="#33cc33" stroke-width="1.05"/>
<circle cx="493.1" cy="174" r="2.35" fill="none" stroke="#33cc33" stroke-width="1.05"/>
<circle cx="529.2" cy="82" r="2.35" fill="none" stroke="#ff5563" stroke-width="1.05"/>
<circle cx="533.9" cy="87.3" r="2.35" fill="none" stroke="#ff5563" stroke-width="1.05"/>
<circle cx="529.2" cy="97.3" r="2.35" fill="none" stroke="#ff5563" stroke-width="1.05"/>
<circle cx="533.9" cy="101.2" r="2.35" fill="none" stroke="#ff5563" stroke-width="1.05"/>
<circle cx="538.5" cy="111.1" r="2.35" fill="none" stroke="#ff5563" stroke-width="1.05"/>
<circle cx="524.6" cy="117.3" r="2.35" fill="none" stroke="#ff5563" stroke-width="1.05"/>
<circle cx="529.2" cy="115" r="2.35" fill="none" stroke="#ff5563" stroke-width="1.05"/>
<circle cx="533.9" cy="117.3" r="2.35" fill="none" stroke="#ff5563" stroke-width="1.05"/>
<circle cx="529.2" cy="121.3" r="2.35" fill="none" stroke="#ff5563" stroke-width="1.05"/>
<circle cx="533.9" cy="124.3" r="2.35" fill="none" stroke="#ff5563" stroke-width="1.05"/>
<circle cx="534.1" cy="125" r="2.35" fill="none" stroke="#ff5563" stroke-width="1.05"/>
<circle cx="529.3" cy="137" r="2.35" fill="none" stroke="#ff5563" stroke-width="1.05"/>
<circle cx="534.1" cy="136.4" r="2.35" fill="none" stroke="#ff5563" stroke-width="1.05"/>
<circle cx="529.3" cy="141.8" r="2.35" fill="none" stroke="#ff5563" stroke-width="1.05"/>
<circle cx="534.1" cy="145.2" r="2.35" fill="none" stroke="#ff5563" stroke-width="1.05"/>
<circle cx="527.4" cy="148.5" r="2.35" fill="none" stroke="#ff5563" stroke-width="1.05"/>
<circle cx="535.9" cy="152.4" r="2.35" fill="none" stroke="#ff5563" stroke-width="1.05"/>
<circle cx="520.2" cy="154.5" r="2.35" fill="none" stroke="#ff5563" stroke-width="1.05"/>
<circle cx="533.5" cy="153.9" r="2.35" fill="none" stroke="#ff5563" stroke-width="1.05"/>
<circle cx="525" cy="158.1" r="2.35" fill="none" stroke="#ff5563" stroke-width="1.05"/>
<circle cx="529.3" cy="159.3" r="2.35" fill="none" stroke="#ff5563" stroke-width="1.05"/>
<circle cx="538.3" cy="159.3" r="2.35" fill="none" stroke="#ff5563" stroke-width="1.05"/>
<circle cx="543.1" cy="157.5" r="2.35" fill="none" stroke="#ff5563" stroke-width="1.05"/>
<circle cx="535.9" cy="161.7" r="2.35" fill="none" stroke="#ff5563" stroke-width="1.05"/>
<circle cx="527.4" cy="164.1" r="2.35" fill="none" stroke="#ff5563" stroke-width="1.05"/>
<circle cx="540.7" cy="164.1" r="2.35" fill="none" stroke="#ff5563" stroke-width="1.05"/>
<circle cx="522" cy="167.1" r="2.35" fill="none" stroke="#ff5563" stroke-width="1.05"/>
<circle cx="525" cy="171.3" r="2.35" fill="none" stroke="#ff5563" stroke-width="1.05"/>
<circle cx="529.3" cy="171.3" r="2.35" fill="none" stroke="#ff5563" stroke-width="1.05"/>
<circle cx="534.1" cy="174.3" r="2.35" fill="none" stroke="#ff5563" stroke-width="1.05"/>
<circle cx="538.3" cy="174.9" r="2.35" fill="none" stroke="#ff5563" stroke-width="1.05"/>
<rect x="566.9" y="36.4" width="4.4" height="4.4" fill="none" stroke="#ff5563" stroke-width="1.05"/>
<rect x="566.9" y="66.6" width="4.4" height="4.4" fill="none" stroke="#ff5563" stroke-width="1.05"/>
<rect x="566.9" y="79.0" width="4.4" height="4.4" fill="none" stroke="#ff5563" stroke-width="1.05"/>
<rect x="566.9" y="92.5" width="4.4" height="4.4" fill="none" stroke="#ff5563" stroke-width="1.05"/>
<rect x="564.9" y="97.5" width="4.4" height="4.4" fill="none" stroke="#ff5563" stroke-width="1.05"/>
<rect x="568.9" y="103.1" width="4.4" height="4.4" fill="none" stroke="#ff5563" stroke-width="1.05"/>
<rect x="566.9" y="115.6" width="4.4" height="4.4" fill="none" stroke="#ff5563" stroke-width="1.05"/>
<rect x="566.9" y="122.1" width="4.4" height="4.4" fill="none" stroke="#ff5563" stroke-width="1.05"/>
<rect x="563.1" y="126.6" width="4.4" height="4.4" fill="none" stroke="#ff5563" stroke-width="1.05"/>
<rect x="570.7" y="127.4" width="4.4" height="4.4" fill="none" stroke="#ff5563" stroke-width="1.05"/>
<rect x="563.1" y="137.9" width="4.4" height="4.4" fill="none" stroke="#ff5563" stroke-width="1.05"/>
<rect x="567.6" y="140.2" width="4.4" height="4.4" fill="none" stroke="#ff5563" stroke-width="1.05"/>
<rect x="571.4" y="143.2" width="4.4" height="4.4" fill="none" stroke="#ff5563" stroke-width="1.05"/>
<rect x="555.6" y="145.5" width="4.4" height="4.4" fill="none" stroke="#ff5563" stroke-width="1.05"/>
<rect x="559.4" y="149.2" width="4.4" height="4.4" fill="none" stroke="#ff5563" stroke-width="1.05"/>
<rect x="563.9" y="149.2" width="4.4" height="4.4" fill="none" stroke="#ff5563" stroke-width="1.05"/>
<rect x="570.7" y="149.2" width="4.4" height="4.4" fill="none" stroke="#ff5563" stroke-width="1.05"/>
<rect x="574.4" y="149.2" width="4.4" height="4.4" fill="none" stroke="#ff5563" stroke-width="1.05"/>
<rect x="578.9" y="149.2" width="4.4" height="4.4" fill="none" stroke="#ff5563" stroke-width="1.05"/>
<rect x="566.9" y="152.2" width="4.4" height="4.4" fill="none" stroke="#ff5563" stroke-width="1.05"/>
<rect x="570.7" y="156.0" width="4.4" height="4.4" fill="none" stroke="#ff5563" stroke-width="1.05"/>
<rect x="563.1" y="156.7" width="4.4" height="4.4" fill="none" stroke="#ff5563" stroke-width="1.05"/>
<rect x="565.4" y="162.8" width="4.4" height="4.4" fill="none" stroke="#ff5563" stroke-width="1.05"/>
<rect x="569.2" y="164.3" width="4.4" height="4.4" fill="none" stroke="#ff5563" stroke-width="1.05"/>
<rect x="563.1" y="165.8" width="4.4" height="4.4" fill="none" stroke="#ff5563" stroke-width="1.05"/>
<rect x="566.9" y="169.5" width="4.4" height="4.4" fill="none" stroke="#ff5563" stroke-width="1.05"/>
<rect x="570.7" y="172.6" width="4.4" height="4.4" fill="none" stroke="#ff5563" stroke-width="1.05"/>
<circle cx="615.1" cy="86.6" r="2.35" fill="none" stroke="#64aaff" stroke-width="1.05"/>
<circle cx="621" cy="92.7" r="2.35" fill="none" stroke="#64aaff" stroke-width="1.05"/>
<circle cx="621" cy="98.8" r="2.35" fill="none" stroke="#64aaff" stroke-width="1.05"/>
<circle cx="615.1" cy="100.4" r="2.35" fill="none" stroke="#64aaff" stroke-width="1.05"/>
<circle cx="618" cy="108.5" r="2.35" fill="none" stroke="#64aaff" stroke-width="1.05"/>
<circle cx="612.1" cy="113.7" r="2.35" fill="none" stroke="#64aaff" stroke-width="1.05"/>
<circle cx="618" cy="116.5" r="2.35" fill="none" stroke="#64aaff" stroke-width="1.05"/>
<circle cx="623.5" cy="119.6" r="2.35" fill="none" stroke="#64aaff" stroke-width="1.05"/>
<circle cx="606.6" cy="123.6" r="2.35" fill="none" stroke="#64aaff" stroke-width="1.05"/>
<circle cx="618" cy="123.6" r="2.35" fill="none" stroke="#64aaff" stroke-width="1.05"/>
<circle cx="629.3" cy="125.1" r="2.35" fill="none" stroke="#64aaff" stroke-width="1.05"/>
<circle cx="612.1" cy="127.5" r="2.35" fill="none" stroke="#64aaff" stroke-width="1.05"/>
<circle cx="623.5" cy="128.1" r="2.35" fill="none" stroke="#64aaff" stroke-width="1.05"/>
<circle cx="617.9" cy="137" r="2.35" fill="none" stroke="#64aaff" stroke-width="1.05"/>
<circle cx="614.9" cy="140.6" r="2.35" fill="none" stroke="#64aaff" stroke-width="1.05"/>
<circle cx="620.9" cy="144.3" r="2.35" fill="none" stroke="#64aaff" stroke-width="1.05"/>
<circle cx="626.5" cy="145.2" r="2.35" fill="none" stroke="#64aaff" stroke-width="1.05"/>
<circle cx="609.2" cy="146.9" r="2.35" fill="none" stroke="#64aaff" stroke-width="1.05"/>
<circle cx="615.2" cy="152.4" r="2.35" fill="none" stroke="#64aaff" stroke-width="1.05"/>
<circle cx="620.6" cy="156.5" r="2.35" fill="none" stroke="#64aaff" stroke-width="1.05"/>
<circle cx="617.9" cy="164.1" r="2.35" fill="none" stroke="#64aaff" stroke-width="1.05"/>
<circle cx="614.9" cy="168.6" r="2.35" fill="none" stroke="#64aaff" stroke-width="1.05"/>
<circle cx="620.6" cy="171.3" r="2.35" fill="none" stroke="#64aaff" stroke-width="1.05"/>
<rect x="655.4" y="15.4" width="4.4" height="4.4" fill="none" stroke="#64aaff" stroke-width="1.05"/>
<rect x="650.9" y="19.0" width="4.4" height="4.4" fill="none" stroke="#64aaff" stroke-width="1.05"/>
<rect x="653.2" y="35.3" width="4.4" height="4.4" fill="none" stroke="#64aaff" stroke-width="1.05"/>
<rect x="653.2" y="47.2" width="4.4" height="4.4" fill="none" stroke="#64aaff" stroke-width="1.05"/>
<rect x="648.7" y="67.1" width="4.4" height="4.4" fill="none" stroke="#64aaff" stroke-width="1.05"/>
<rect x="658.1" y="66.6" width="4.4" height="4.4" fill="none" stroke="#64aaff" stroke-width="1.05"/>
<rect x="653.2" y="70.2" width="4.4" height="4.4" fill="none" stroke="#64aaff" stroke-width="1.05"/>
<rect x="644.6" y="72.5" width="4.4" height="4.4" fill="none" stroke="#64aaff" stroke-width="1.05"/>
<rect x="662.6" y="70.7" width="4.4" height="4.4" fill="none" stroke="#64aaff" stroke-width="1.05"/>
<rect x="648.8" y="83.9" width="4.4" height="4.4" fill="none" stroke="#64aaff" stroke-width="1.05"/>
<rect x="657.8" y="84.6" width="4.4" height="4.4" fill="none" stroke="#64aaff" stroke-width="1.05"/>
<rect x="653.4" y="87.2" width="4.4" height="4.4" fill="none" stroke="#64aaff" stroke-width="1.05"/>
<rect x="648.8" y="98.2" width="4.4" height="4.4" fill="none" stroke="#64aaff" stroke-width="1.05"/>
<rect x="653.4" y="96.0" width="4.4" height="4.4" fill="none" stroke="#64aaff" stroke-width="1.05"/>
<rect x="657.8" y="102.6" width="4.4" height="4.4" fill="none" stroke="#64aaff" stroke-width="1.05"/>
<rect x="657.8" y="109.8" width="4.4" height="4.4" fill="none" stroke="#64aaff" stroke-width="1.05"/>
<rect x="648.8" y="113.1" width="4.4" height="4.4" fill="none" stroke="#64aaff" stroke-width="1.05"/>
<rect x="653.4" y="114.2" width="4.4" height="4.4" fill="none" stroke="#64aaff" stroke-width="1.05"/>
<rect x="657.8" y="119.2" width="4.4" height="4.4" fill="none" stroke="#64aaff" stroke-width="1.05"/>
<rect x="648.8" y="122.0" width="4.4" height="4.4" fill="none" stroke="#64aaff" stroke-width="1.05"/>
<rect x="653.4" y="123.1" width="4.4" height="4.4" fill="none" stroke="#64aaff" stroke-width="1.05"/>
<rect x="644.4" y="126.4" width="4.4" height="4.4" fill="none" stroke="#64aaff" stroke-width="1.05"/>
<rect x="648.8" y="125.3" width="4.4" height="4.4" fill="none" stroke="#64aaff" stroke-width="1.05"/>
<rect x="644.1" y="127.0" width="4.4" height="4.4" fill="none" stroke="#64aaff" stroke-width="1.05"/>
<rect x="648.9" y="124.6" width="4.4" height="4.4" fill="none" stroke="#64aaff" stroke-width="1.05"/>
<rect x="653.7" y="124.6" width="4.4" height="4.4" fill="none" stroke="#64aaff" stroke-width="1.05"/>
<rect x="642.3" y="133.0" width="4.4" height="4.4" fill="none" stroke="#64aaff" stroke-width="1.05"/>
<rect x="647.1" y="133.0" width="4.4" height="4.4" fill="none" stroke="#64aaff" stroke-width="1.05"/>
<rect x="653.7" y="132.4" width="4.4" height="4.4" fill="none" stroke="#64aaff" stroke-width="1.05"/>
<rect x="657.9" y="133.0" width="4.4" height="4.4" fill="none" stroke="#64aaff" stroke-width="1.05"/>
<rect x="663.9" y="132.4" width="4.4" height="4.4" fill="none" stroke="#64aaff" stroke-width="1.05"/>
<rect x="646.5" y="137.9" width="4.4" height="4.4" fill="none" stroke="#64aaff" stroke-width="1.05"/>
<rect x="651.3" y="138.5" width="4.4" height="4.4" fill="none" stroke="#64aaff" stroke-width="1.05"/>
<rect x="659.7" y="138.5" width="4.4" height="4.4" fill="none" stroke="#64aaff" stroke-width="1.05"/>
<rect x="644.1" y="143.3" width="4.4" height="4.4" fill="none" stroke="#64aaff" stroke-width="1.05"/>
<rect x="648.9" y="146.3" width="4.4" height="4.4" fill="none" stroke="#64aaff" stroke-width="1.05"/>
<rect x="662.1" y="145.1" width="4.4" height="4.4" fill="none" stroke="#64aaff" stroke-width="1.05"/>
<rect x="653.7" y="148.7" width="4.4" height="4.4" fill="none" stroke="#64aaff" stroke-width="1.05"/>
<rect x="651.3" y="153.5" width="4.4" height="4.4" fill="none" stroke="#64aaff" stroke-width="1.05"/>
<rect x="655.5" y="154.1" width="4.4" height="4.4" fill="none" stroke="#64aaff" stroke-width="1.05"/>
<rect x="660.3" y="154.1" width="4.4" height="4.4" fill="none" stroke="#64aaff" stroke-width="1.05"/>
<rect x="646.5" y="155.9" width="4.4" height="4.4" fill="none" stroke="#64aaff" stroke-width="1.05"/>
<rect x="648.9" y="160.1" width="4.4" height="4.4" fill="none" stroke="#64aaff" stroke-width="1.05"/>
<rect x="653.7" y="160.8" width="4.4" height="4.4" fill="none" stroke="#64aaff" stroke-width="1.05"/>
<rect x="657.9" y="163.8" width="4.4" height="4.4" fill="none" stroke="#64aaff" stroke-width="1.05"/>
<rect x="651.3" y="166.8" width="4.4" height="4.4" fill="none" stroke="#64aaff" stroke-width="1.05"/>
<rect x="655.5" y="171.6" width="4.4" height="4.4" fill="none" stroke="#64aaff" stroke-width="1.05"/>
<circle cx="261.9" cy="328" r="2.35" fill="none" stroke="#c8bd8c" stroke-width="1.05"/>
<circle cx="261.9" cy="336.5" r="2.35" fill="none" stroke="#c8bd8c" stroke-width="1.05"/>
<circle cx="264.1" cy="342.1" r="2.35" fill="none" stroke="#c8bd8c" stroke-width="1.05"/>
<circle cx="259.8" cy="343.9" r="2.35" fill="none" stroke="#c8bd8c" stroke-width="1.05"/>
<circle cx="261.9" cy="346.3" r="2.35" fill="none" stroke="#c8bd8c" stroke-width="1.05"/>
<circle cx="265.8" cy="347.9" r="2.35" fill="none" stroke="#c8bd8c" stroke-width="1.05"/>
<circle cx="258.3" cy="350.9" r="2.35" fill="none" stroke="#c8bd8c" stroke-width="1.05"/>
<circle cx="258.3" cy="356.5" r="2.35" fill="none" stroke="#c8bd8c" stroke-width="1.05"/>
<circle cx="262.2" cy="356.1" r="2.35" fill="none" stroke="#c8bd8c" stroke-width="1.05"/>
<circle cx="265.8" cy="361.9" r="2.35" fill="none" stroke="#c8bd8c" stroke-width="1.05"/>
<circle cx="258.3" cy="368.2" r="2.35" fill="none" stroke="#c8bd8c" stroke-width="1.05"/>
<circle cx="262.2" cy="369.1" r="2.35" fill="none" stroke="#c8bd8c" stroke-width="1.05"/>
<circle cx="265.8" cy="370.4" r="2.35" fill="none" stroke="#c8bd8c" stroke-width="1.05"/>
<circle cx="254.3" cy="379" r="2.35" fill="none" stroke="#c8bd8c" stroke-width="1.05"/>
<circle cx="261.1" cy="376.8" r="2.35" fill="none" stroke="#c8bd8c" stroke-width="1.05"/>
<circle cx="265.6" cy="379.3" r="2.35" fill="none" stroke="#c8bd8c" stroke-width="1.05"/>
<circle cx="269.8" cy="379.3" r="2.35" fill="none" stroke="#c8bd8c" stroke-width="1.05"/>
<circle cx="262.6" cy="382.8" r="2.35" fill="none" stroke="#c8bd8c" stroke-width="1.05"/>
<circle cx="258.1" cy="385.1" r="2.35" fill="none" stroke="#c8bd8c" stroke-width="1.05"/>
<circle cx="259.6" cy="387.3" r="2.35" fill="none" stroke="#c8bd8c" stroke-width="1.05"/>
<circle cx="264.1" cy="391.1" r="2.35" fill="none" stroke="#c8bd8c" stroke-width="1.05"/>
<circle cx="258.1" cy="394.1" r="2.35" fill="none" stroke="#c8bd8c" stroke-width="1.05"/>
<circle cx="269.4" cy="395.9" r="2.35" fill="none" stroke="#c8bd8c" stroke-width="1.05"/>
<circle cx="255.1" cy="397.9" r="2.35" fill="none" stroke="#c8bd8c" stroke-width="1.05"/>
<circle cx="264.8" cy="397.9" r="2.35" fill="none" stroke="#c8bd8c" stroke-width="1.05"/>
<circle cx="256.6" cy="401.6" r="2.35" fill="none" stroke="#c8bd8c" stroke-width="1.05"/>
<circle cx="261.1" cy="402.4" r="2.35" fill="none" stroke="#c8bd8c" stroke-width="1.05"/>
<circle cx="264.1" cy="406.1" r="2.35" fill="none" stroke="#c8bd8c" stroke-width="1.05"/>
<circle cx="267.1" cy="405.8" r="2.35" fill="none" stroke="#c8bd8c" stroke-width="1.05"/>
<circle cx="261.8" cy="409.5" r="2.35" fill="none" stroke="#c8bd8c" stroke-width="1.05"/>
<circle cx="250.5" cy="411.4" r="2.35" fill="none" stroke="#c8bd8c" stroke-width="1.05"/>
<circle cx="254.3" cy="412.9" r="2.35" fill="none" stroke="#c8bd8c" stroke-width="1.05"/>
<circle cx="258.1" cy="413.7" r="2.35" fill="none" stroke="#c8bd8c" stroke-width="1.05"/>
<circle cx="269.4" cy="412.9" r="2.35" fill="none" stroke="#c8bd8c" stroke-width="1.05"/>
<circle cx="273.4" cy="411.4" r="2.35" fill="none" stroke="#c8bd8c" stroke-width="1.05"/>
<circle cx="250.5" cy="419.7" r="2.35" fill="none" stroke="#c8bd8c" stroke-width="1.05"/>
<circle cx="254.3" cy="423.5" r="2.35" fill="none" stroke="#c8bd8c" stroke-width="1.05"/>
<circle cx="258.1" cy="424.2" r="2.35" fill="none" stroke="#c8bd8c" stroke-width="1.05"/>
<circle cx="261.8" cy="426.5" r="2.35" fill="none" stroke="#c8bd8c" stroke-width="1.05"/>
<circle cx="265.6" cy="423.5" r="2.35" fill="none" stroke="#c8bd8c" stroke-width="1.05"/>
<circle cx="269.8" cy="426" r="2.35" fill="none" stroke="#c8bd8c" stroke-width="1.05"/>
<circle cx="273.4" cy="421.2" r="2.35" fill="none" stroke="#c8bd8c" stroke-width="1.05"/>
<circle cx="250.5" cy="434" r="2.35" fill="none" stroke="#c8bd8c" stroke-width="1.05"/>
<circle cx="254.8" cy="435.1" r="2.35" fill="none" stroke="#c8bd8c" stroke-width="1.05"/>
<circle cx="258.1" cy="436.3" r="2.35" fill="none" stroke="#c8bd8c" stroke-width="1.05"/>
<circle cx="261.8" cy="433.3" r="2.35" fill="none" stroke="#c8bd8c" stroke-width="1.05"/>
<circle cx="265.6" cy="436.3" r="2.35" fill="none" stroke="#c8bd8c" stroke-width="1.05"/>
<circle cx="269.4" cy="433.3" r="2.35" fill="none" stroke="#c8bd8c" stroke-width="1.05"/>
<circle cx="273.4" cy="436.3" r="2.35" fill="none" stroke="#c8bd8c" stroke-width="1.05"/>
<circle cx="304.3" cy="314.8" r="2.35" fill="none" stroke="#33cc33" stroke-width="1.05"/>
<circle cx="306.1" cy="317" r="2.35" fill="none" stroke="#33cc33" stroke-width="1.05"/>
<circle cx="302.8" cy="322.3" r="2.35" fill="none" stroke="#33cc33" stroke-width="1.05"/>
<circle cx="306.1" cy="331.8" r="2.35" fill="none" stroke="#33cc33" stroke-width="1.05"/>
<circle cx="302.8" cy="337.8" r="2.35" fill="none" stroke="#33cc33" stroke-width="1.05"/>
<circle cx="304.3" cy="349.1" r="2.35" fill="none" stroke="#33cc33" stroke-width="1.05"/>
<circle cx="299.3" cy="360" r="2.35" fill="none" stroke="#33cc33" stroke-width="1.05"/>
<circle cx="302.8" cy="358" r="2.35" fill="none" stroke="#33cc33" stroke-width="1.05"/>
<circle cx="306.1" cy="360.7" r="2.35" fill="none" stroke="#33cc33" stroke-width="1.05"/>
<circle cx="309.4" cy="362.5" r="2.35" fill="none" stroke="#33cc33" stroke-width="1.05"/>
<circle cx="302.8" cy="366.7" r="2.35" fill="none" stroke="#33cc33" stroke-width="1.05"/>
<circle cx="306.1" cy="371" r="2.35" fill="none" stroke="#33cc33" stroke-width="1.05"/>
<circle cx="300.8" cy="382.3" r="2.35" fill="none" stroke="#33cc33" stroke-width="1.05"/>
<circle cx="302.3" cy="386.6" r="2.35" fill="none" stroke="#33cc33" stroke-width="1.05"/>
<circle cx="307.6" cy="385.1" r="2.35" fill="none" stroke="#33cc33" stroke-width="1.05"/>
<circle cx="306.1" cy="392.3" r="2.35" fill="none" stroke="#33cc33" stroke-width="1.05"/>
<circle cx="292.8" cy="393.8" r="2.35" fill="none" stroke="#33cc33" stroke-width="1.05"/>
<circle cx="296.8" cy="397.4" r="2.35" fill="none" stroke="#33cc33" stroke-width="1.05"/>
<circle cx="300.1" cy="398.6" r="2.35" fill="none" stroke="#33cc33" stroke-width="1.05"/>
<circle cx="306.1" cy="397.9" r="2.35" fill="none" stroke="#33cc33" stroke-width="1.05"/>
<circle cx="309.1" cy="397.1" r="2.35" fill="none" stroke="#33cc33" stroke-width="1.05"/>
<circle cx="312.9" cy="397.1" r="2.35" fill="none" stroke="#33cc33" stroke-width="1.05"/>
<circle cx="316.3" cy="399.4" r="2.35" fill="none" stroke="#33cc33" stroke-width="1.05"/>
<circle cx="292.5" cy="404.9" r="2.35" fill="none" stroke="#33cc33" stroke-width="1.05"/>
<circle cx="296.3" cy="404.6" r="2.35" fill="none" stroke="#33cc33" stroke-width="1.05"/>
<circle cx="302.3" cy="405.4" r="2.35" fill="none" stroke="#33cc33" stroke-width="1.05"/>
<circle cx="306.1" cy="404.3" r="2.35" fill="none" stroke="#33cc33" stroke-width="1.05"/>
<circle cx="309.4" cy="406.9" r="2.35" fill="none" stroke="#33cc33" stroke-width="1.05"/>
<circle cx="309.4" cy="409.9" r="2.35" fill="none" stroke="#33cc33" stroke-width="1.05"/>
<circle cx="296.3" cy="413.7" r="2.35" fill="none" stroke="#33cc33" stroke-width="1.05"/>
<circle cx="301.3" cy="412.9" r="2.35" fill="none" stroke="#33cc33" stroke-width="1.05"/>
<circle cx="312.1" cy="412.9" r="2.35" fill="none" stroke="#33cc33" stroke-width="1.05"/>
<circle cx="295.6" cy="415.9" r="2.35" fill="none" stroke="#33cc33" stroke-width="1.05"/>
<circle cx="303.1" cy="416.7" r="2.35" fill="none" stroke="#33cc33" stroke-width="1.05"/>
<circle cx="312.1" cy="419.4" r="2.35" fill="none" stroke="#33cc33" stroke-width="1.05"/>
<circle cx="303.1" cy="421.2" r="2.35" fill="none" stroke="#33cc33" stroke-width="1.05"/>
<circle cx="309.1" cy="421.2" r="2.35" fill="none" stroke="#33cc33" stroke-width="1.05"/>
<circle cx="306.8" cy="425" r="2.35" fill="none" stroke="#33cc33" stroke-width="1.05"/>
<circle cx="310.6" cy="425.4" r="2.35" fill="none" stroke="#33cc33" stroke-width="1.05"/>
<circle cx="313.6" cy="425.4" r="2.35" fill="none" stroke="#33cc33" stroke-width="1.05"/>
<circle cx="294.8" cy="428" r="2.35" fill="none" stroke="#33cc33" stroke-width="1.05"/>
<circle cx="298.6" cy="428" r="2.35" fill="none" stroke="#33cc33" stroke-width="1.05"/>
<circle cx="301.3" cy="426.5" r="2.35" fill="none" stroke="#33cc33" stroke-width="1.05"/>
<circle cx="301.3" cy="434.5" r="2.35" fill="none" stroke="#33cc33" stroke-width="1.05"/>
<circle cx="304.6" cy="435.1" r="2.35" fill="none" stroke="#33cc33" stroke-width="1.05"/>
<circle cx="307.9" cy="438.5" r="2.35" fill="none" stroke="#33cc33" stroke-width="1.05"/>
<circle cx="354.3" cy="306.3" r="2.35" fill="none" stroke="#ff5563" stroke-width="1.05"/>
<circle cx="354.3" cy="324.1" r="2.35" fill="none" stroke="#ff5563" stroke-width="1.05"/>
<circle cx="351.3" cy="354" r="2.35" fill="none" stroke="#ff5563" stroke-width="1.05"/>
<circle cx="354.3" cy="359.5" r="2.35" fill="none" stroke="#ff5563" stroke-width="1.05"/>
<circle cx="357.6" cy="359" r="2.35" fill="none" stroke="#ff5563" stroke-width="1.05"/>
<circle cx="352.6" cy="373.8" r="2.35" fill="none" stroke="#ff5563" stroke-width="1.05"/>
<circle cx="356.1" cy="376.6" r="2.35" fill="none" stroke="#ff5563" stroke-width="1.05"/>
<circle cx="352.6" cy="393.9" r="2.35" fill="none" stroke="#ff5563" stroke-width="1.05"/>
<circle cx="352.6" cy="401.1" r="2.35" fill="none" stroke="#ff5563" stroke-width="1.05"/>
<circle cx="356.1" cy="404.4" r="2.35" fill="none" stroke="#ff5563" stroke-width="1.05"/>
<circle cx="356.1" cy="408.1" r="2.35" fill="none" stroke="#ff5563" stroke-width="1.05"/>
<circle cx="352.6" cy="410" r="2.35" fill="none" stroke="#ff5563" stroke-width="1.05"/>
<circle cx="349.3" cy="411.9" r="2.35" fill="none" stroke="#ff5563" stroke-width="1.05"/>
<circle cx="359.3" cy="411.6" r="2.35" fill="none" stroke="#ff5563" stroke-width="1.05"/>
<circle cx="342.9" cy="418" r="2.35" fill="none" stroke="#ff5563" stroke-width="1.05"/>
<circle cx="346.5" cy="420.9" r="2.35" fill="none" stroke="#ff5563" stroke-width="1.05"/>
<circle cx="349.7" cy="422" r="2.35" fill="none" stroke="#ff5563" stroke-width="1.05"/>
<circle cx="352.9" cy="422.5" r="2.35" fill="none" stroke="#ff5563" stroke-width="1.05"/>
<circle cx="359.3" cy="420.4" r="2.35" fill="none" stroke="#ff5563" stroke-width="1.05"/>
<circle cx="362.5" cy="424.1" r="2.35" fill="none" stroke="#ff5563" stroke-width="1.05"/>
<circle cx="365.7" cy="422" r="2.35" fill="none" stroke="#ff5563" stroke-width="1.05"/>
<circle cx="356.1" cy="424.4" r="2.35" fill="none" stroke="#ff5563" stroke-width="1.05"/>
<circle cx="346.1" cy="430.1" r="2.35" fill="none" stroke="#ff5563" stroke-width="1.05"/>
<circle cx="349.7" cy="432.5" r="2.35" fill="none" stroke="#ff5563" stroke-width="1.05"/>
<circle cx="352.9" cy="431.7" r="2.35" fill="none" stroke="#ff5563" stroke-width="1.05"/>
<circle cx="355.3" cy="432.5" r="2.35" fill="none" stroke="#ff5563" stroke-width="1.05"/>
<circle cx="359.3" cy="427.7" r="2.35" fill="none" stroke="#ff5563" stroke-width="1.05"/>
<circle cx="362.5" cy="428" r="2.35" fill="none" stroke="#ff5563" stroke-width="1.05"/>
<circle cx="352.6" cy="428.9" r="2.35" fill="none" stroke="#ff5563" stroke-width="1.05"/>
<circle cx="357.4" cy="438.9" r="2.35" fill="none" stroke="#ff5563" stroke-width="1.05"/>
<rect x="389.9" y="311.8" width="4.4" height="4.4" fill="none" stroke="#ff5563" stroke-width="1.05"/>
<rect x="389.9" y="319.6" width="4.4" height="4.4" fill="none" stroke="#ff5563" stroke-width="1.05"/>
<rect x="389.9" y="348.7" width="4.4" height="4.4" fill="none" stroke="#ff5563" stroke-width="1.05"/>
<rect x="389.9" y="366.3" width="4.4" height="4.4" fill="none" stroke="#ff5563" stroke-width="1.05"/>
<rect x="386.1" y="396.7" width="4.4" height="4.4" fill="none" stroke="#ff5563" stroke-width="1.05"/>
<rect x="393.1" y="397.0" width="4.4" height="4.4" fill="none" stroke="#ff5563" stroke-width="1.05"/>
<rect x="397.3" y="398.1" width="4.4" height="4.4" fill="none" stroke="#ff5563" stroke-width="1.05"/>
<rect x="381.9" y="400.9" width="4.4" height="4.4" fill="none" stroke="#ff5563" stroke-width="1.05"/>
<rect x="389.6" y="400.2" width="4.4" height="4.4" fill="none" stroke="#ff5563" stroke-width="1.05"/>
<rect x="381.9" y="406.6" width="4.4" height="4.4" fill="none" stroke="#ff5563" stroke-width="1.05"/>
<rect x="397.3" y="405.9" width="4.4" height="4.4" fill="none" stroke="#ff5563" stroke-width="1.05"/>
<rect x="386.1" y="410.5" width="4.4" height="4.4" fill="none" stroke="#ff5563" stroke-width="1.05"/>
<rect x="393.1" y="410.8" width="4.4" height="4.4" fill="none" stroke="#ff5563" stroke-width="1.05"/>
<rect x="384.0" y="415.0" width="4.4" height="4.4" fill="none" stroke="#ff5563" stroke-width="1.05"/>
<rect x="388.9" y="415.0" width="4.4" height="4.4" fill="none" stroke="#ff5563" stroke-width="1.05"/>
<rect x="388.2" y="417.8" width="4.4" height="4.4" fill="none" stroke="#ff5563" stroke-width="1.05"/>
<rect x="395.2" y="417.5" width="4.4" height="4.4" fill="none" stroke="#ff5563" stroke-width="1.05"/>
<rect x="391.7" y="418.5" width="4.4" height="4.4" fill="none" stroke="#ff5563" stroke-width="1.05"/>
<rect x="389.6" y="422.0" width="4.4" height="4.4" fill="none" stroke="#ff5563" stroke-width="1.05"/>
<rect x="378.3" y="428.4" width="4.4" height="4.4" fill="none" stroke="#ff5563" stroke-width="1.05"/>
<rect x="381.9" y="427.9" width="4.4" height="4.4" fill="none" stroke="#ff5563" stroke-width="1.05"/>
<rect x="386.1" y="429.1" width="4.4" height="4.4" fill="none" stroke="#ff5563" stroke-width="1.05"/>
<rect x="393.8" y="426.5" width="4.4" height="4.4" fill="none" stroke="#ff5563" stroke-width="1.05"/>
<rect x="400.9" y="427.7" width="4.4" height="4.4" fill="none" stroke="#ff5563" stroke-width="1.05"/>
<rect x="386.1" y="433.6" width="4.4" height="4.4" fill="none" stroke="#ff5563" stroke-width="1.05"/>
<rect x="393.1" y="435.0" width="4.4" height="4.4" fill="none" stroke="#ff5563" stroke-width="1.05"/>
<circle cx="442.3" cy="294.5" r="2.35" fill="none" stroke="#64aaff" stroke-width="1.05"/>
<circle cx="442.3" cy="309.4" r="2.35" fill="none" stroke="#64aaff" stroke-width="1.05"/>
<circle cx="442.3" cy="368.6" r="2.35" fill="none" stroke="#64aaff" stroke-width="1.05"/>
<circle cx="442.3" cy="379" r="2.35" fill="none" stroke="#64aaff" stroke-width="1.05"/>
<circle cx="447.9" cy="380.5" r="2.35" fill="none" stroke="#64aaff" stroke-width="1.05"/>
<circle cx="436.6" cy="384.8" r="2.35" fill="none" stroke="#64aaff" stroke-width="1.05"/>
<circle cx="436.6" cy="393.3" r="2.35" fill="none" stroke="#64aaff" stroke-width="1.05"/>
<circle cx="442.3" cy="396.4" r="2.35" fill="none" stroke="#64aaff" stroke-width="1.05"/>
<circle cx="447.9" cy="398.6" r="2.35" fill="none" stroke="#64aaff" stroke-width="1.05"/>
<circle cx="439.3" cy="411.9" r="2.35" fill="none" stroke="#64aaff" stroke-width="1.05"/>
<circle cx="444.8" cy="413.4" r="2.35" fill="none" stroke="#64aaff" stroke-width="1.05"/>
<circle cx="433.6" cy="418.2" r="2.35" fill="none" stroke="#64aaff" stroke-width="1.05"/>
<circle cx="450.9" cy="419.4" r="2.35" fill="none" stroke="#64aaff" stroke-width="1.05"/>
<circle cx="439.3" cy="421.2" r="2.35" fill="none" stroke="#64aaff" stroke-width="1.05"/>
<circle cx="444.8" cy="421.2" r="2.35" fill="none" stroke="#64aaff" stroke-width="1.05"/>
<circle cx="442.3" cy="423.5" r="2.35" fill="none" stroke="#64aaff" stroke-width="1.05"/>
<circle cx="447.9" cy="425" r="2.35" fill="none" stroke="#64aaff" stroke-width="1.05"/>
<circle cx="436.6" cy="428.7" r="2.35" fill="none" stroke="#64aaff" stroke-width="1.05"/>
<circle cx="430.8" cy="431" r="2.35" fill="none" stroke="#64aaff" stroke-width="1.05"/>
<circle cx="436.6" cy="431.7" r="2.35" fill="none" stroke="#64aaff" stroke-width="1.05"/>
<circle cx="442.3" cy="433.3" r="2.35" fill="none" stroke="#64aaff" stroke-width="1.05"/>
<circle cx="447.9" cy="434" r="2.35" fill="none" stroke="#64aaff" stroke-width="1.05"/>
<circle cx="453.4" cy="436.6" r="2.35" fill="none" stroke="#64aaff" stroke-width="1.05"/>
<rect x="477.5" y="278.8" width="4.4" height="4.4" fill="none" stroke="#64aaff" stroke-width="1.05"/>
<rect x="477.5" y="296.3" width="4.4" height="4.4" fill="none" stroke="#64aaff" stroke-width="1.05"/>
<rect x="477.5" y="308.0" width="4.4" height="4.4" fill="none" stroke="#64aaff" stroke-width="1.05"/>
<rect x="477.5" y="330.5" width="4.4" height="4.4" fill="none" stroke="#64aaff" stroke-width="1.05"/>
<rect x="476.3" y="345.1" width="4.4" height="4.4" fill="none" stroke="#64aaff" stroke-width="1.05"/>
<rect x="478.9" y="351.1" width="4.4" height="4.4" fill="none" stroke="#64aaff" stroke-width="1.05"/>
<rect x="477.5" y="364.1" width="4.4" height="4.4" fill="none" stroke="#64aaff" stroke-width="1.05"/>
<rect x="477.5" y="370.0" width="4.4" height="4.4" fill="none" stroke="#64aaff" stroke-width="1.05"/>
<rect x="473.5" y="378.1" width="4.4" height="4.4" fill="none" stroke="#64aaff" stroke-width="1.05"/>
<rect x="473.5" y="386.1" width="4.4" height="4.4" fill="none" stroke="#64aaff" stroke-width="1.05"/>
<rect x="476.7" y="383.7" width="4.4" height="4.4" fill="none" stroke="#64aaff" stroke-width="1.05"/>
<rect x="480.7" y="384.5" width="4.4" height="4.4" fill="none" stroke="#64aaff" stroke-width="1.05"/>
<rect x="481.5" y="389.3" width="4.4" height="4.4" fill="none" stroke="#64aaff" stroke-width="1.05"/>
<rect x="475.9" y="391.7" width="4.4" height="4.4" fill="none" stroke="#64aaff" stroke-width="1.05"/>
<rect x="480.7" y="396.5" width="4.4" height="4.4" fill="none" stroke="#64aaff" stroke-width="1.05"/>
<rect x="473.1" y="402.2" width="4.4" height="4.4" fill="none" stroke="#64aaff" stroke-width="1.05"/>
<rect x="475.9" y="403.0" width="4.4" height="4.4" fill="none" stroke="#64aaff" stroke-width="1.05"/>
<rect x="474.3" y="407.0" width="4.4" height="4.4" fill="none" stroke="#64aaff" stroke-width="1.05"/>
<rect x="479.1" y="407.8" width="4.4" height="4.4" fill="none" stroke="#64aaff" stroke-width="1.05"/>
<rect x="481.5" y="413.9" width="4.4" height="4.4" fill="none" stroke="#64aaff" stroke-width="1.05"/>
<rect x="484.7" y="415.0" width="4.4" height="4.4" fill="none" stroke="#64aaff" stroke-width="1.05"/>
<rect x="469.5" y="415.8" width="4.4" height="4.4" fill="none" stroke="#64aaff" stroke-width="1.05"/>
<rect x="473.5" y="416.6" width="4.4" height="4.4" fill="none" stroke="#64aaff" stroke-width="1.05"/>
<rect x="466.2" y="419.8" width="4.4" height="4.4" fill="none" stroke="#64aaff" stroke-width="1.05"/>
<rect x="471.1" y="419.8" width="4.4" height="4.4" fill="none" stroke="#64aaff" stroke-width="1.05"/>
<rect x="478.3" y="419.0" width="4.4" height="4.4" fill="none" stroke="#64aaff" stroke-width="1.05"/>
<rect x="486.3" y="421.4" width="4.4" height="4.4" fill="none" stroke="#64aaff" stroke-width="1.05"/>
<rect x="467.8" y="423.0" width="4.4" height="4.4" fill="none" stroke="#64aaff" stroke-width="1.05"/>
<rect x="475.9" y="423.0" width="4.4" height="4.4" fill="none" stroke="#64aaff" stroke-width="1.05"/>
<rect x="481.5" y="423.8" width="4.4" height="4.4" fill="none" stroke="#64aaff" stroke-width="1.05"/>
<rect x="470.3" y="426.3" width="4.4" height="4.4" fill="none" stroke="#64aaff" stroke-width="1.05"/>
<rect x="488.7" y="426.3" width="4.4" height="4.4" fill="none" stroke="#64aaff" stroke-width="1.05"/>
<rect x="471.9" y="427.9" width="4.4" height="4.4" fill="none" stroke="#64aaff" stroke-width="1.05"/>
<rect x="475.9" y="427.9" width="4.4" height="4.4" fill="none" stroke="#64aaff" stroke-width="1.05"/>
<rect x="479.9" y="428.7" width="4.4" height="4.4" fill="none" stroke="#64aaff" stroke-width="1.05"/>
<rect x="483.1" y="433.5" width="4.4" height="4.4" fill="none" stroke="#64aaff" stroke-width="1.05"/>
<line x1="63.9" y1="174.6" x2="93.7" y2="174.6" stroke="#2a2a2a" stroke-width="2.4"/>
<line x1="71.7" y1="169.5" x2="86.5" y2="169.5" stroke="#333" stroke-width="1.15"/>
<line x1="71.7" y1="177.3" x2="86.5" y2="177.3" stroke="#333" stroke-width="1.15"/>
<line x1="79" y1="169.5" x2="79" y2="177.3" stroke="#333" stroke-width="1.15"/>
<line x1="106" y1="157.6" x2="136.2" y2="157.6" stroke="#2a2a2a" stroke-width="2.4"/>
<line x1="114.1" y1="140.2" x2="128.6" y2="140.2" stroke="#333" stroke-width="1.15"/>
<line x1="114.1" y1="167.4" x2="128.6" y2="167.4" stroke="#333" stroke-width="1.15"/>
<line x1="121.4" y1="140.2" x2="121.4" y2="167.4" stroke="#333" stroke-width="1.15"/>
<line x1="156.3" y1="161.1" x2="186.3" y2="161.1" stroke="#2a2a2a" stroke-width="2.4"/>
<line x1="164.4" y1="152" x2="178.7" y2="152" stroke="#333" stroke-width="1.15"/>
<line x1="164.4" y1="166.3" x2="178.7" y2="166.3" stroke="#333" stroke-width="1.15"/>
<line x1="171.2" y1="152" x2="171.2" y2="166.3" stroke="#333" stroke-width="1.15"/>
<line x1="192.3" y1="157.5" x2="222.7" y2="157.5" stroke="#2a2a2a" stroke-width="2.4"/>
<line x1="200.2" y1="149.2" x2="214.8" y2="149.2" stroke="#333" stroke-width="1.15"/>
<line x1="200.2" y1="170.3" x2="214.8" y2="170.3" stroke="#333" stroke-width="1.15"/>
<line x1="207.5" y1="149.2" x2="207.5" y2="170.3" stroke="#333" stroke-width="1.15"/>
<line x1="242.6" y1="153.4" x2="272.8" y2="153.4" stroke="#2a2a2a" stroke-width="2.4"/>
<line x1="250.3" y1="139.2" x2="265.2" y2="139.2" stroke="#333" stroke-width="1.15"/>
<line x1="250.3" y1="162.9" x2="265.2" y2="162.9" stroke="#333" stroke-width="1.15"/>
<line x1="257.5" y1="139.2" x2="257.5" y2="162.9" stroke="#333" stroke-width="1.15"/>
<line x1="282.2" y1="133.3" x2="311.4" y2="133.3" stroke="#2a2a2a" stroke-width="2.4"/>
<line x1="288.9" y1="117.2" x2="304.4" y2="117.2" stroke="#333" stroke-width="1.15"/>
<line x1="289.8" y1="154.1" x2="303.6" y2="154.1" stroke="#333" stroke-width="1.15"/>
<line x1="297.3" y1="117.2" x2="297.3" y2="154.1" stroke="#333" stroke-width="1.15"/>
<line x1="424" y1="174.3" x2="454.3" y2="174.3" stroke="#2a2a2a" stroke-width="2.4"/>
<line x1="432" y1="173.6" x2="446" y2="173.6" stroke="#333" stroke-width="1.15"/>
<line x1="432" y1="175.0" x2="446" y2="175.0" stroke="#333" stroke-width="1.15"/>
<line x1="439.2" y1="173.6" x2="439.2" y2="175.0" stroke="#333" stroke-width="1.15"/>
<line x1="466.3" y1="156.2" x2="496.9" y2="156.2" stroke="#2a2a2a" stroke-width="2.4"/>
<line x1="474.3" y1="127.8" x2="489.4" y2="127.8" stroke="#333" stroke-width="1.15"/>
<line x1="474.3" y1="167.7" x2="489.4" y2="167.7" stroke="#333" stroke-width="1.15"/>
<line x1="481.5" y1="127.8" x2="481.5" y2="167.7" stroke="#333" stroke-width="1.15"/>
<line x1="516.6" y1="151.5" x2="546.7" y2="151.5" stroke="#2a2a2a" stroke-width="2.4"/>
<line x1="524.6" y1="118.5" x2="539.2" y2="118.5" stroke="#333" stroke-width="1.15"/>
<line x1="524.4" y1="162.3" x2="538.9" y2="162.3" stroke="#333" stroke-width="1.15"/>
<line x1="531.7" y1="118.5" x2="531.7" y2="162.3" stroke="#333" stroke-width="1.15"/>
<line x1="554.3" y1="147.7" x2="584.5" y2="147.7" stroke="#2a2a2a" stroke-width="2.4"/>
<line x1="561.9" y1="120.2" x2="576.6" y2="120.2" stroke="#333" stroke-width="1.15"/>
<line x1="561.9" y1="157" x2="576.6" y2="157" stroke="#333" stroke-width="1.15"/>
<line x1="569.3" y1="120.2" x2="569.3" y2="157" stroke="#333" stroke-width="1.15"/>
<line x1="603" y1="127.3" x2="632.8" y2="127.3" stroke="#2a2a2a" stroke-width="2.4"/>
<line x1="610.5" y1="113.7" x2="625" y2="113.7" stroke="#333" stroke-width="1.15"/>
<line x1="610.6" y1="146.9" x2="625.1" y2="146.9" stroke="#333" stroke-width="1.15"/>
<line x1="617.9" y1="113.7" x2="617.9" y2="146.9" stroke="#333" stroke-width="1.15"/>
<line x1="640.6" y1="132.6" x2="670.8" y2="132.6" stroke="#2a2a2a" stroke-width="2.4"/>
<line x1="648.2" y1="88.2" x2="662.9" y2="88.2" stroke="#333" stroke-width="1.15"/>
<line x1="648.1" y1="149.1" x2="662.5" y2="149.1" stroke="#333" stroke-width="1.15"/>
<line x1="655.6" y1="88.2" x2="655.6" y2="149.1" stroke="#333" stroke-width="1.15"/>
<line x1="246.8" y1="398.6" x2="276.9" y2="398.6" stroke="#2a2a2a" stroke-width="2.4"/>
<line x1="254.3" y1="370.4" x2="269.3" y2="370.4" stroke="#333" stroke-width="1.15"/>
<line x1="254.3" y1="421.2" x2="269.4" y2="421.2" stroke="#333" stroke-width="1.15"/>
<line x1="262.3" y1="370.4" x2="262.3" y2="421.2" stroke="#333" stroke-width="1.15"/>
<line x1="289.2" y1="401.6" x2="319.3" y2="401.6" stroke="#2a2a2a" stroke-width="2.4"/>
<line x1="297.1" y1="383.6" x2="311.8" y2="383.6" stroke="#333" stroke-width="1.15"/>
<line x1="297.8" y1="419" x2="311.4" y2="419" stroke="#333" stroke-width="1.15"/>
<line x1="304.6" y1="383.6" x2="304.6" y2="419" stroke="#333" stroke-width="1.15"/>
<line x1="339.2" y1="419.3" x2="369.8" y2="419.3" stroke="#2a2a2a" stroke-width="2.4"/>
<line x1="347.3" y1="394.7" x2="361.7" y2="394.7" stroke="#333" stroke-width="1.15"/>
<line x1="347.3" y1="426.5" x2="361.7" y2="426.5" stroke="#333" stroke-width="1.15"/>
<line x1="354.5" y1="394.7" x2="354.5" y2="426.5" stroke="#333" stroke-width="1.15"/>
<line x1="377" y1="415.8" x2="406.8" y2="415.8" stroke="#2a2a2a" stroke-width="2.4"/>
<line x1="385.2" y1="400.6" x2="399.5" y2="400.6" stroke="#333" stroke-width="1.15"/>
<line x1="385.2" y1="429.1" x2="399.5" y2="429.1" stroke="#333" stroke-width="1.15"/>
<line x1="391.8" y1="400.6" x2="391.8" y2="429.1" stroke="#333" stroke-width="1.15"/>
<line x1="427.2" y1="418.2" x2="457.3" y2="418.2" stroke="#2a2a2a" stroke-width="2.4"/>
<line x1="434.3" y1="384.8" x2="449.8" y2="384.8" stroke="#333" stroke-width="1.15"/>
<line x1="434.3" y1="430" x2="449.8" y2="430" stroke="#333" stroke-width="1.15"/>
<line x1="442.3" y1="384.8" x2="442.3" y2="430" stroke="#333" stroke-width="1.15"/>
<line x1="465.2" y1="412.4" x2="495" y2="412.4" stroke="#2a2a2a" stroke-width="2.4"/>
<line x1="472.5" y1="386.2" x2="486.9" y2="386.2" stroke="#333" stroke-width="1.15"/>
<line x1="473.3" y1="424.9" x2="487.2" y2="424.9" stroke="#333" stroke-width="1.15"/>
<line x1="479.7" y1="386.2" x2="479.7" y2="424.9" stroke="#333" stroke-width="1.15"/>
<line x1="112.0" y1="6.4" x2="117.0" y2="6.4" stroke="#333" stroke-width="1.0"/>
<line x1="113.25" y1="4.23" x2="115.75" y2="8.57" stroke="#333" stroke-width="1.0"/>
<line x1="115.75" y1="4.23" x2="113.25" y2="8.57" stroke="#333" stroke-width="1.0"/>
<line x1="117.1" y1="6.4" x2="122.1" y2="6.4" stroke="#333" stroke-width="1.0"/>
<line x1="118.35" y1="4.23" x2="120.85" y2="8.57" stroke="#333" stroke-width="1.0"/>
<line x1="120.85" y1="4.23" x2="118.35" y2="8.57" stroke="#333" stroke-width="1.0"/>
<line x1="122.4" y1="6.4" x2="127.4" y2="6.4" stroke="#333" stroke-width="1.0"/>
<line x1="123.65" y1="4.23" x2="126.15" y2="8.57" stroke="#333" stroke-width="1.0"/>
<line x1="126.15" y1="4.23" x2="123.65" y2="8.57" stroke="#333" stroke-width="1.0"/>
<line x1="189.8" y1="6.5" x2="194.8" y2="6.5" stroke="#333" stroke-width="1.0"/>
<line x1="191.05" y1="4.33" x2="193.55" y2="8.67" stroke="#333" stroke-width="1.0"/>
<line x1="193.55" y1="4.33" x2="191.05" y2="8.67" stroke="#333" stroke-width="1.0"/>
<line x1="256.6" y1="6.4" x2="261.6" y2="6.4" stroke="#333" stroke-width="1.0"/>
<line x1="257.85" y1="4.23" x2="260.35" y2="8.57" stroke="#333" stroke-width="1.0"/>
<line x1="260.35" y1="4.23" x2="257.85" y2="8.57" stroke="#333" stroke-width="1.0"/>
<line x1="165.9" y1="12.3" x2="219.3" y2="12.3" stroke="#333" stroke-width="1.1"/>
<line x1="472.6" y1="6.4" x2="477.6" y2="6.4" stroke="#333" stroke-width="1.0"/>
<line x1="473.85" y1="4.23" x2="476.35" y2="8.57" stroke="#333" stroke-width="1.0"/>
<line x1="476.35" y1="4.23" x2="473.85" y2="8.57" stroke="#333" stroke-width="1.0"/>
<line x1="478.0" y1="6.4" x2="483.0" y2="6.4" stroke="#333" stroke-width="1.0"/>
<line x1="479.25" y1="4.23" x2="481.75" y2="8.57" stroke="#333" stroke-width="1.0"/>
<line x1="481.75" y1="4.23" x2="479.25" y2="8.57" stroke="#333" stroke-width="1.0"/>
<line x1="483.1" y1="6.4" x2="488.1" y2="6.4" stroke="#333" stroke-width="1.0"/>
<line x1="484.35" y1="4.23" x2="486.85" y2="8.57" stroke="#333" stroke-width="1.0"/>
<line x1="486.85" y1="4.23" x2="484.35" y2="8.57" stroke="#333" stroke-width="1.0"/>
<line x1="78.5" y1="145.9" x2="78.1" y2="153.5" stroke="#222" stroke-width="0.95"/>
<line x1="80.9" y1="145.9" x2="80.5" y2="153.5" stroke="#222" stroke-width="0.95"/>
<line x1="76.7" y1="148.41" x2="82.3" y2="148.41" stroke="#222" stroke-width="0.9"/>
<line x1="76.7" y1="151.07" x2="82.3" y2="151.07" stroke="#222" stroke-width="0.9"/>
<line x1="440.4" y1="151.3" x2="440.0" y2="159" stroke="#222" stroke-width="0.95"/>
<line x1="442.8" y1="151.3" x2="442.4" y2="159" stroke="#222" stroke-width="0.95"/>
<line x1="438.6" y1="153.84" x2="444.2" y2="153.84" stroke="#222" stroke-width="0.9"/>
<line x1="438.6" y1="156.54" x2="444.2" y2="156.54" stroke="#222" stroke-width="0.9"/>
</svg></body></html>
